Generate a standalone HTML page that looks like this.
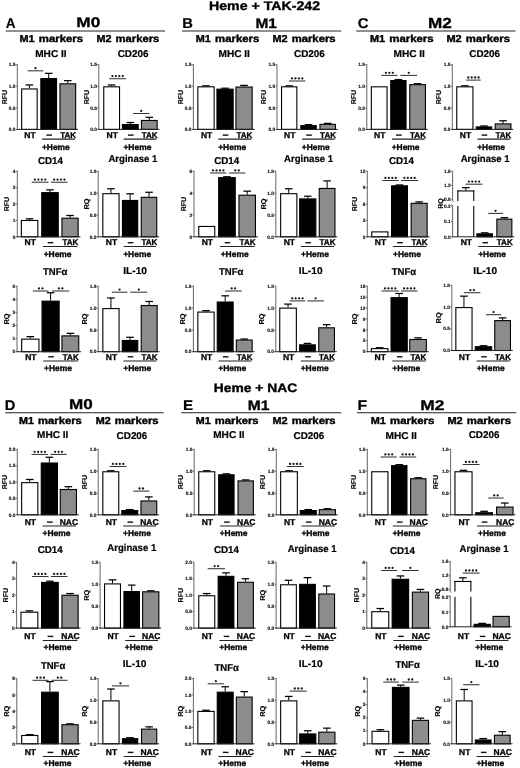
<!DOCTYPE html>
<html><head><meta charset="utf-8"><style>
html,body{margin:0;padding:0;background:#fff;overflow:hidden;}
svg{display:block;filter:blur(0.3px);}
text{font-family:"Liberation Sans", sans-serif;text-rendering:geometricPrecision;}
</style></head><body>
<svg width="520" height="768" viewBox="0 0 520 768">
<rect width="520" height="768" fill="#fff"/>
<line x1="17.30" y1="64.20" x2="17.30" y2="129.90" stroke="#555" stroke-width="0.90"/>
<line x1="15.70" y1="129.40" x2="17.30" y2="129.40" stroke="#555" stroke-width="0.80"/>
<text x="15.40" y="131.10" font-size="4.80" text-anchor="end" fill="#111" font-weight="bold" stroke="#111" stroke-width="0.15">0.0</text>
<line x1="15.70" y1="107.83" x2="17.30" y2="107.83" stroke="#555" stroke-width="0.80"/>
<text x="15.40" y="109.53" font-size="4.80" text-anchor="end" fill="#111" font-weight="bold" stroke="#111" stroke-width="0.15">0.5</text>
<line x1="15.70" y1="86.27" x2="17.30" y2="86.27" stroke="#555" stroke-width="0.80"/>
<text x="15.40" y="87.97" font-size="4.80" text-anchor="end" fill="#111" font-weight="bold" stroke="#111" stroke-width="0.15">1.0</text>
<line x1="15.70" y1="64.70" x2="17.30" y2="64.70" stroke="#555" stroke-width="0.80"/>
<text x="15.40" y="66.40" font-size="4.80" text-anchor="end" fill="#111" font-weight="bold" stroke="#111" stroke-width="0.15">1.5</text>
<text x="6.80" y="97.05" font-size="7.00" text-anchor="middle" fill="#000" font-weight="bold" textLength="14.50" lengthAdjust="spacingAndGlyphs" transform="rotate(-90 6.80 97.05)" stroke="#000" stroke-width="0.15">RFU</text>
<line x1="29.40" y1="88.42" x2="29.40" y2="84.97" stroke="#000" stroke-width="1.00"/>
<line x1="25.60" y1="84.97" x2="33.20" y2="84.97" stroke="#000" stroke-width="1.25"/>
<rect x="21.65" y="88.97" width="15.50" height="40.43" fill="#fff" stroke="#000" stroke-width="1.10"/>
<line x1="48.70" y1="78.07" x2="48.70" y2="73.33" stroke="#000" stroke-width="1.00"/>
<line x1="44.90" y1="73.33" x2="52.50" y2="73.33" stroke="#000" stroke-width="1.25"/>
<rect x="40.85" y="78.62" width="15.70" height="50.78" fill="#000" stroke="#000" stroke-width="1.10"/>
<line x1="67.80" y1="83.25" x2="67.80" y2="80.66" stroke="#000" stroke-width="1.00"/>
<line x1="64.00" y1="80.66" x2="71.60" y2="80.66" stroke="#000" stroke-width="1.25"/>
<rect x="59.95" y="83.80" width="15.70" height="45.60" fill="#8c8c8c" stroke="#000" stroke-width="1.10"/>
<line x1="16.80" y1="129.40" x2="78.00" y2="129.40" stroke="#222" stroke-width="1.00"/>
<line x1="27.70" y1="70.80" x2="43.30" y2="70.80" stroke="#333" stroke-width="1.05"/>
<circle cx="35.50" cy="68.20" r="1.15" fill="#1a1a1a"/>
<text x="30.00" y="137.80" font-size="8.50" text-anchor="middle" fill="#000" font-weight="bold" textLength="11.36" lengthAdjust="spacingAndGlyphs" stroke="#000" stroke-width="0.30">NT</text>
<rect x="46.40" y="134.40" width="5.60" height="1.40" fill="#111"/>
<text x="68.20" y="137.80" font-size="8.50" text-anchor="middle" fill="#000" font-weight="bold" textLength="15.96" lengthAdjust="spacingAndGlyphs" stroke="#000" stroke-width="0.30">TAK</text>
<line x1="42.10" y1="139.10" x2="74.90" y2="139.10" stroke="#222" stroke-width="1.05"/>
<text x="55.85" y="149.60" font-size="8.50" text-anchor="middle" fill="#000" font-weight="bold" textLength="27.94" lengthAdjust="spacingAndGlyphs" stroke="#000" stroke-width="0.30">+Heme</text>
<text x="50.90" y="56.90" font-size="9.90" text-anchor="middle" fill="#000" font-weight="bold" textLength="31.35" lengthAdjust="spacingAndGlyphs" stroke="#000" stroke-width="0.20">MHC II</text>
<line x1="98.80" y1="64.20" x2="98.80" y2="129.90" stroke="#555" stroke-width="0.90"/>
<line x1="97.20" y1="129.40" x2="98.80" y2="129.40" stroke="#555" stroke-width="0.80"/>
<text x="96.90" y="131.10" font-size="4.80" text-anchor="end" fill="#111" font-weight="bold" stroke="#111" stroke-width="0.15">0.0</text>
<line x1="97.20" y1="107.83" x2="98.80" y2="107.83" stroke="#555" stroke-width="0.80"/>
<text x="96.90" y="109.53" font-size="4.80" text-anchor="end" fill="#111" font-weight="bold" stroke="#111" stroke-width="0.15">0.5</text>
<line x1="97.20" y1="86.27" x2="98.80" y2="86.27" stroke="#555" stroke-width="0.80"/>
<text x="96.90" y="87.97" font-size="4.80" text-anchor="end" fill="#111" font-weight="bold" stroke="#111" stroke-width="0.15">1.0</text>
<line x1="97.20" y1="64.70" x2="98.80" y2="64.70" stroke="#555" stroke-width="0.80"/>
<text x="96.90" y="66.40" font-size="4.80" text-anchor="end" fill="#111" font-weight="bold" stroke="#111" stroke-width="0.15">1.5</text>
<text x="88.80" y="97.05" font-size="7.00" text-anchor="middle" fill="#000" font-weight="bold" textLength="14.50" lengthAdjust="spacingAndGlyphs" transform="rotate(-90 88.80 97.05)" stroke="#000" stroke-width="0.15">RFU</text>
<line x1="111.65" y1="86.27" x2="111.65" y2="84.97" stroke="#000" stroke-width="1.00"/>
<line x1="107.85" y1="84.97" x2="115.45" y2="84.97" stroke="#000" stroke-width="1.25"/>
<rect x="103.75" y="86.82" width="15.80" height="42.58" fill="#fff" stroke="#000" stroke-width="1.10"/>
<line x1="130.30" y1="124.01" x2="130.30" y2="122.50" stroke="#000" stroke-width="1.00"/>
<line x1="126.50" y1="122.50" x2="134.10" y2="122.50" stroke="#000" stroke-width="1.25"/>
<rect x="122.45" y="124.56" width="15.70" height="4.84" fill="#000" stroke="#000" stroke-width="1.10"/>
<line x1="149.30" y1="119.91" x2="149.30" y2="117.32" stroke="#000" stroke-width="1.00"/>
<line x1="145.50" y1="117.32" x2="153.10" y2="117.32" stroke="#000" stroke-width="1.25"/>
<rect x="141.45" y="120.46" width="15.70" height="8.94" fill="#8c8c8c" stroke="#000" stroke-width="1.10"/>
<line x1="98.30" y1="129.40" x2="159.50" y2="129.40" stroke="#222" stroke-width="1.00"/>
<line x1="109.20" y1="78.70" x2="126.00" y2="78.70" stroke="#333" stroke-width="1.05"/>
<circle cx="112.42" cy="76.10" r="1.15" fill="#1a1a1a"/>
<circle cx="115.88" cy="76.10" r="1.15" fill="#1a1a1a"/>
<circle cx="119.32" cy="76.10" r="1.15" fill="#1a1a1a"/>
<circle cx="122.77" cy="76.10" r="1.15" fill="#1a1a1a"/>
<line x1="133.10" y1="113.50" x2="149.40" y2="113.50" stroke="#333" stroke-width="1.05"/>
<circle cx="141.25" cy="110.90" r="1.15" fill="#1a1a1a"/>
<text x="112.25" y="137.80" font-size="8.50" text-anchor="middle" fill="#000" font-weight="bold" textLength="11.36" lengthAdjust="spacingAndGlyphs" stroke="#000" stroke-width="0.30">NT</text>
<rect x="128.00" y="134.40" width="5.60" height="1.40" fill="#111"/>
<text x="149.70" y="137.80" font-size="8.50" text-anchor="middle" fill="#000" font-weight="bold" textLength="15.96" lengthAdjust="spacingAndGlyphs" stroke="#000" stroke-width="0.30">TAK</text>
<line x1="123.70" y1="139.10" x2="156.40" y2="139.10" stroke="#222" stroke-width="1.05"/>
<text x="137.40" y="149.60" font-size="8.50" text-anchor="middle" fill="#000" font-weight="bold" textLength="27.94" lengthAdjust="spacingAndGlyphs" stroke="#000" stroke-width="0.30">+Heme</text>
<text x="133.10" y="56.90" font-size="9.90" text-anchor="middle" fill="#000" font-weight="bold" textLength="30.76" lengthAdjust="spacingAndGlyphs" stroke="#000" stroke-width="0.20">CD206</text>
<line x1="17.30" y1="170.80" x2="17.30" y2="237.30" stroke="#555" stroke-width="0.90"/>
<line x1="15.70" y1="236.80" x2="17.30" y2="236.80" stroke="#555" stroke-width="0.80"/>
<text x="15.40" y="238.50" font-size="4.80" text-anchor="end" fill="#111" font-weight="bold" stroke="#111" stroke-width="0.15">0</text>
<line x1="15.70" y1="220.43" x2="17.30" y2="220.43" stroke="#555" stroke-width="0.80"/>
<text x="15.40" y="222.12" font-size="4.80" text-anchor="end" fill="#111" font-weight="bold" stroke="#111" stroke-width="0.15">1</text>
<line x1="15.70" y1="204.05" x2="17.30" y2="204.05" stroke="#555" stroke-width="0.80"/>
<text x="15.40" y="205.75" font-size="4.80" text-anchor="end" fill="#111" font-weight="bold" stroke="#111" stroke-width="0.15">2</text>
<line x1="15.70" y1="187.68" x2="17.30" y2="187.68" stroke="#555" stroke-width="0.80"/>
<text x="15.40" y="189.38" font-size="4.80" text-anchor="end" fill="#111" font-weight="bold" stroke="#111" stroke-width="0.15">3</text>
<line x1="15.70" y1="171.30" x2="17.30" y2="171.30" stroke="#555" stroke-width="0.80"/>
<text x="15.40" y="173.00" font-size="4.80" text-anchor="end" fill="#111" font-weight="bold" stroke="#111" stroke-width="0.15">4</text>
<text x="8.80" y="204.05" font-size="7.00" text-anchor="middle" fill="#000" font-weight="bold" textLength="14.50" lengthAdjust="spacingAndGlyphs" transform="rotate(-90 8.80 204.05)" stroke="#000" stroke-width="0.15">RFU</text>
<line x1="29.60" y1="219.93" x2="29.60" y2="218.79" stroke="#000" stroke-width="1.00"/>
<line x1="25.80" y1="218.79" x2="33.40" y2="218.79" stroke="#000" stroke-width="1.25"/>
<rect x="21.35" y="220.48" width="16.50" height="16.32" fill="#fff" stroke="#000" stroke-width="1.10"/>
<line x1="50.00" y1="192.10" x2="50.00" y2="189.80" stroke="#000" stroke-width="1.00"/>
<line x1="46.20" y1="189.80" x2="53.80" y2="189.80" stroke="#000" stroke-width="1.25"/>
<rect x="41.75" y="192.65" width="16.50" height="44.15" fill="#000" stroke="#000" stroke-width="1.10"/>
<line x1="70.05" y1="217.64" x2="70.05" y2="215.51" stroke="#000" stroke-width="1.00"/>
<line x1="66.25" y1="215.51" x2="73.85" y2="215.51" stroke="#000" stroke-width="1.25"/>
<rect x="61.95" y="218.19" width="16.20" height="18.61" fill="#8c8c8c" stroke="#000" stroke-width="1.10"/>
<line x1="16.80" y1="236.80" x2="80.50" y2="236.80" stroke="#222" stroke-width="1.00"/>
<line x1="31.70" y1="182.20" x2="48.50" y2="182.20" stroke="#333" stroke-width="1.05"/>
<circle cx="34.92" cy="179.60" r="1.15" fill="#1a1a1a"/>
<circle cx="38.38" cy="179.60" r="1.15" fill="#1a1a1a"/>
<circle cx="41.83" cy="179.60" r="1.15" fill="#1a1a1a"/>
<circle cx="45.28" cy="179.60" r="1.15" fill="#1a1a1a"/>
<line x1="51.00" y1="182.20" x2="67.50" y2="182.20" stroke="#333" stroke-width="1.05"/>
<circle cx="54.08" cy="179.60" r="1.15" fill="#1a1a1a"/>
<circle cx="57.52" cy="179.60" r="1.15" fill="#1a1a1a"/>
<circle cx="60.98" cy="179.60" r="1.15" fill="#1a1a1a"/>
<circle cx="64.42" cy="179.60" r="1.15" fill="#1a1a1a"/>
<text x="30.20" y="245.40" font-size="8.50" text-anchor="middle" fill="#000" font-weight="bold" textLength="11.36" lengthAdjust="spacingAndGlyphs" stroke="#000" stroke-width="0.30">NT</text>
<rect x="47.70" y="242.00" width="5.60" height="1.40" fill="#111"/>
<text x="70.45" y="245.40" font-size="8.50" text-anchor="middle" fill="#000" font-weight="bold" textLength="15.96" lengthAdjust="spacingAndGlyphs" stroke="#000" stroke-width="0.30">TAK</text>
<line x1="43.00" y1="246.40" x2="77.40" y2="246.40" stroke="#222" stroke-width="1.05"/>
<text x="57.62" y="256.70" font-size="8.50" text-anchor="middle" fill="#000" font-weight="bold" textLength="27.94" lengthAdjust="spacingAndGlyphs" stroke="#000" stroke-width="0.30">+Heme</text>
<text x="50.50" y="163.60" font-size="9.90" text-anchor="middle" fill="#000" font-weight="bold" textLength="24.95" lengthAdjust="spacingAndGlyphs" stroke="#000" stroke-width="0.20">CD14</text>
<line x1="98.20" y1="170.80" x2="98.20" y2="237.30" stroke="#555" stroke-width="0.90"/>
<line x1="96.60" y1="236.80" x2="98.20" y2="236.80" stroke="#555" stroke-width="0.80"/>
<text x="96.30" y="238.50" font-size="4.80" text-anchor="end" fill="#111" font-weight="bold" stroke="#111" stroke-width="0.15">0.0</text>
<line x1="96.60" y1="214.97" x2="98.20" y2="214.97" stroke="#555" stroke-width="0.80"/>
<text x="96.30" y="216.67" font-size="4.80" text-anchor="end" fill="#111" font-weight="bold" stroke="#111" stroke-width="0.15">0.5</text>
<line x1="96.60" y1="193.13" x2="98.20" y2="193.13" stroke="#555" stroke-width="0.80"/>
<text x="96.30" y="194.83" font-size="4.80" text-anchor="end" fill="#111" font-weight="bold" stroke="#111" stroke-width="0.15">1.0</text>
<line x1="96.60" y1="171.30" x2="98.20" y2="171.30" stroke="#555" stroke-width="0.80"/>
<text x="96.30" y="173.00" font-size="4.80" text-anchor="end" fill="#111" font-weight="bold" stroke="#111" stroke-width="0.15">1.5</text>
<text x="88.80" y="204.05" font-size="7.00" text-anchor="middle" fill="#000" font-weight="bold" textLength="11.00" lengthAdjust="spacingAndGlyphs" transform="rotate(-90 88.80 204.05)" stroke="#000" stroke-width="0.15">RQ</text>
<line x1="110.95" y1="193.13" x2="110.95" y2="188.77" stroke="#000" stroke-width="1.00"/>
<line x1="107.15" y1="188.77" x2="114.75" y2="188.77" stroke="#000" stroke-width="1.25"/>
<rect x="102.85" y="193.68" width="16.20" height="43.12" fill="#fff" stroke="#000" stroke-width="1.10"/>
<line x1="130.10" y1="199.90" x2="130.10" y2="193.79" stroke="#000" stroke-width="1.00"/>
<line x1="126.30" y1="193.79" x2="133.90" y2="193.79" stroke="#000" stroke-width="1.25"/>
<rect x="122.45" y="200.45" width="15.30" height="36.35" fill="#000" stroke="#000" stroke-width="1.10"/>
<line x1="149.00" y1="196.76" x2="149.00" y2="192.26" stroke="#000" stroke-width="1.00"/>
<line x1="145.20" y1="192.26" x2="152.80" y2="192.26" stroke="#000" stroke-width="1.25"/>
<rect x="141.25" y="197.31" width="15.50" height="39.49" fill="#8c8c8c" stroke="#000" stroke-width="1.10"/>
<line x1="97.70" y1="236.80" x2="159.10" y2="236.80" stroke="#222" stroke-width="1.00"/>
<text x="111.55" y="245.40" font-size="8.50" text-anchor="middle" fill="#000" font-weight="bold" textLength="11.36" lengthAdjust="spacingAndGlyphs" stroke="#000" stroke-width="0.30">NT</text>
<rect x="127.80" y="242.00" width="5.60" height="1.40" fill="#111"/>
<text x="149.40" y="245.40" font-size="8.50" text-anchor="middle" fill="#000" font-weight="bold" textLength="15.96" lengthAdjust="spacingAndGlyphs" stroke="#000" stroke-width="0.30">TAK</text>
<line x1="123.70" y1="246.40" x2="156.00" y2="246.40" stroke="#222" stroke-width="1.05"/>
<text x="137.15" y="256.70" font-size="8.50" text-anchor="middle" fill="#000" font-weight="bold" textLength="27.94" lengthAdjust="spacingAndGlyphs" stroke="#000" stroke-width="0.30">+Heme</text>
<text x="132.90" y="161.80" font-size="9.90" text-anchor="middle" fill="#000" font-weight="bold" textLength="49.01" lengthAdjust="spacingAndGlyphs" stroke="#000" stroke-width="0.20">Arginase 1</text>
<line x1="17.00" y1="285.70" x2="17.00" y2="352.20" stroke="#555" stroke-width="0.90"/>
<line x1="15.40" y1="351.70" x2="17.00" y2="351.70" stroke="#555" stroke-width="0.80"/>
<text x="15.10" y="353.40" font-size="4.80" text-anchor="end" fill="#111" font-weight="bold" stroke="#111" stroke-width="0.15">0</text>
<line x1="15.40" y1="338.60" x2="17.00" y2="338.60" stroke="#555" stroke-width="0.80"/>
<text x="15.10" y="340.30" font-size="4.80" text-anchor="end" fill="#111" font-weight="bold" stroke="#111" stroke-width="0.15">1</text>
<line x1="15.40" y1="325.50" x2="17.00" y2="325.50" stroke="#555" stroke-width="0.80"/>
<text x="15.10" y="327.20" font-size="4.80" text-anchor="end" fill="#111" font-weight="bold" stroke="#111" stroke-width="0.15">2</text>
<line x1="15.40" y1="312.40" x2="17.00" y2="312.40" stroke="#555" stroke-width="0.80"/>
<text x="15.10" y="314.10" font-size="4.80" text-anchor="end" fill="#111" font-weight="bold" stroke="#111" stroke-width="0.15">3</text>
<line x1="15.40" y1="299.30" x2="17.00" y2="299.30" stroke="#555" stroke-width="0.80"/>
<text x="15.10" y="301.00" font-size="4.80" text-anchor="end" fill="#111" font-weight="bold" stroke="#111" stroke-width="0.15">4</text>
<line x1="15.40" y1="286.20" x2="17.00" y2="286.20" stroke="#555" stroke-width="0.80"/>
<text x="15.10" y="287.90" font-size="4.80" text-anchor="end" fill="#111" font-weight="bold" stroke="#111" stroke-width="0.15">5</text>
<text x="9.10" y="318.95" font-size="7.00" text-anchor="middle" fill="#000" font-weight="bold" textLength="11.00" lengthAdjust="spacingAndGlyphs" transform="rotate(-90 9.10 318.95)" stroke="#000" stroke-width="0.15">RQ</text>
<line x1="30.30" y1="338.60" x2="30.30" y2="336.63" stroke="#000" stroke-width="1.00"/>
<line x1="26.50" y1="336.63" x2="34.10" y2="336.63" stroke="#000" stroke-width="1.25"/>
<rect x="21.65" y="339.15" width="17.30" height="12.55" fill="#fff" stroke="#000" stroke-width="1.10"/>
<line x1="50.60" y1="300.61" x2="50.60" y2="292.75" stroke="#000" stroke-width="1.00"/>
<line x1="46.80" y1="292.75" x2="54.40" y2="292.75" stroke="#000" stroke-width="1.25"/>
<rect x="42.05" y="301.16" width="17.10" height="50.54" fill="#000" stroke="#000" stroke-width="1.10"/>
<line x1="70.35" y1="335.32" x2="70.35" y2="333.36" stroke="#000" stroke-width="1.00"/>
<line x1="66.55" y1="333.36" x2="74.15" y2="333.36" stroke="#000" stroke-width="1.25"/>
<rect x="61.95" y="335.88" width="16.80" height="15.82" fill="#8c8c8c" stroke="#000" stroke-width="1.10"/>
<line x1="16.50" y1="351.70" x2="81.10" y2="351.70" stroke="#222" stroke-width="1.00"/>
<line x1="32.90" y1="291.00" x2="48.50" y2="291.00" stroke="#333" stroke-width="1.05"/>
<circle cx="38.98" cy="288.40" r="1.15" fill="#1a1a1a"/>
<circle cx="42.43" cy="288.40" r="1.15" fill="#1a1a1a"/>
<line x1="52.00" y1="291.00" x2="69.20" y2="291.00" stroke="#333" stroke-width="1.05"/>
<circle cx="58.88" cy="288.40" r="1.15" fill="#1a1a1a"/>
<circle cx="62.33" cy="288.40" r="1.15" fill="#1a1a1a"/>
<text x="30.90" y="359.50" font-size="8.50" text-anchor="middle" fill="#000" font-weight="bold" textLength="11.36" lengthAdjust="spacingAndGlyphs" stroke="#000" stroke-width="0.30">NT</text>
<rect x="48.30" y="356.10" width="5.60" height="1.40" fill="#111"/>
<text x="70.75" y="359.50" font-size="8.50" text-anchor="middle" fill="#000" font-weight="bold" textLength="15.96" lengthAdjust="spacingAndGlyphs" stroke="#000" stroke-width="0.30">TAK</text>
<line x1="43.30" y1="360.90" x2="78.00" y2="360.90" stroke="#222" stroke-width="1.05"/>
<text x="58.07" y="370.70" font-size="8.50" text-anchor="middle" fill="#000" font-weight="bold" textLength="27.94" lengthAdjust="spacingAndGlyphs" stroke="#000" stroke-width="0.30">+Heme</text>
<text x="55.20" y="275.00" font-size="9.90" text-anchor="middle" fill="#000" font-weight="bold" textLength="24.40" lengthAdjust="spacingAndGlyphs" stroke="#000" stroke-width="0.20">TNFα</text>
<line x1="98.20" y1="285.70" x2="98.20" y2="352.20" stroke="#555" stroke-width="0.90"/>
<line x1="96.60" y1="351.70" x2="98.20" y2="351.70" stroke="#555" stroke-width="0.80"/>
<text x="96.30" y="353.40" font-size="4.80" text-anchor="end" fill="#111" font-weight="bold" stroke="#111" stroke-width="0.15">0.0</text>
<line x1="96.60" y1="329.87" x2="98.20" y2="329.87" stroke="#555" stroke-width="0.80"/>
<text x="96.30" y="331.57" font-size="4.80" text-anchor="end" fill="#111" font-weight="bold" stroke="#111" stroke-width="0.15">0.5</text>
<line x1="96.60" y1="308.03" x2="98.20" y2="308.03" stroke="#555" stroke-width="0.80"/>
<text x="96.30" y="309.73" font-size="4.80" text-anchor="end" fill="#111" font-weight="bold" stroke="#111" stroke-width="0.15">1.0</text>
<line x1="96.60" y1="286.20" x2="98.20" y2="286.20" stroke="#555" stroke-width="0.80"/>
<text x="96.30" y="287.90" font-size="4.80" text-anchor="end" fill="#111" font-weight="bold" stroke="#111" stroke-width="0.15">1.5</text>
<text x="87.00" y="318.95" font-size="7.00" text-anchor="middle" fill="#000" font-weight="bold" textLength="11.00" lengthAdjust="spacingAndGlyphs" transform="rotate(-90 87.00 318.95)" stroke="#000" stroke-width="0.15">RQ</text>
<line x1="110.95" y1="308.03" x2="110.95" y2="297.99" stroke="#000" stroke-width="1.00"/>
<line x1="107.15" y1="297.99" x2="114.75" y2="297.99" stroke="#000" stroke-width="1.25"/>
<rect x="102.85" y="308.58" width="16.20" height="43.12" fill="#fff" stroke="#000" stroke-width="1.10"/>
<line x1="130.00" y1="339.91" x2="130.00" y2="337.29" stroke="#000" stroke-width="1.00"/>
<line x1="126.20" y1="337.29" x2="133.80" y2="337.29" stroke="#000" stroke-width="1.25"/>
<rect x="122.25" y="340.46" width="15.50" height="11.24" fill="#000" stroke="#000" stroke-width="1.10"/>
<line x1="149.20" y1="304.98" x2="149.20" y2="301.48" stroke="#000" stroke-width="1.00"/>
<line x1="145.40" y1="301.48" x2="153.00" y2="301.48" stroke="#000" stroke-width="1.25"/>
<rect x="141.25" y="305.53" width="15.90" height="46.17" fill="#8c8c8c" stroke="#000" stroke-width="1.10"/>
<line x1="97.70" y1="351.70" x2="159.50" y2="351.70" stroke="#222" stroke-width="1.00"/>
<line x1="111.80" y1="292.20" x2="127.40" y2="292.20" stroke="#333" stroke-width="1.05"/>
<circle cx="119.60" cy="289.60" r="1.15" fill="#1a1a1a"/>
<line x1="130.30" y1="292.20" x2="147.30" y2="292.20" stroke="#333" stroke-width="1.05"/>
<circle cx="138.80" cy="289.60" r="1.15" fill="#1a1a1a"/>
<text x="111.55" y="359.50" font-size="8.50" text-anchor="middle" fill="#000" font-weight="bold" textLength="11.36" lengthAdjust="spacingAndGlyphs" stroke="#000" stroke-width="0.30">NT</text>
<rect x="127.70" y="356.10" width="5.60" height="1.40" fill="#111"/>
<text x="149.60" y="359.50" font-size="8.50" text-anchor="middle" fill="#000" font-weight="bold" textLength="15.96" lengthAdjust="spacingAndGlyphs" stroke="#000" stroke-width="0.30">TAK</text>
<line x1="123.50" y1="360.90" x2="156.40" y2="360.90" stroke="#222" stroke-width="1.05"/>
<text x="137.20" y="370.70" font-size="8.50" text-anchor="middle" fill="#000" font-weight="bold" textLength="27.94" lengthAdjust="spacingAndGlyphs" stroke="#000" stroke-width="0.30">+Heme</text>
<text x="135.10" y="273.60" font-size="9.90" text-anchor="middle" fill="#000" font-weight="bold" textLength="23.70" lengthAdjust="spacingAndGlyphs" stroke="#000" stroke-width="0.20">IL-10</text>
<line x1="193.40" y1="64.20" x2="193.40" y2="129.90" stroke="#555" stroke-width="0.90"/>
<line x1="191.80" y1="129.40" x2="193.40" y2="129.40" stroke="#555" stroke-width="0.80"/>
<text x="191.50" y="131.10" font-size="4.80" text-anchor="end" fill="#111" font-weight="bold" stroke="#111" stroke-width="0.15">0.0</text>
<line x1="191.80" y1="107.83" x2="193.40" y2="107.83" stroke="#555" stroke-width="0.80"/>
<text x="191.50" y="109.53" font-size="4.80" text-anchor="end" fill="#111" font-weight="bold" stroke="#111" stroke-width="0.15">0.5</text>
<line x1="191.80" y1="86.27" x2="193.40" y2="86.27" stroke="#555" stroke-width="0.80"/>
<text x="191.50" y="87.97" font-size="4.80" text-anchor="end" fill="#111" font-weight="bold" stroke="#111" stroke-width="0.15">1.0</text>
<line x1="191.80" y1="64.70" x2="193.40" y2="64.70" stroke="#555" stroke-width="0.80"/>
<text x="191.50" y="66.40" font-size="4.80" text-anchor="end" fill="#111" font-weight="bold" stroke="#111" stroke-width="0.15">1.5</text>
<text x="183.20" y="97.05" font-size="7.00" text-anchor="middle" fill="#000" font-weight="bold" textLength="14.50" lengthAdjust="spacingAndGlyphs" transform="rotate(-90 183.20 97.05)" stroke="#000" stroke-width="0.15">RFU</text>
<line x1="206.00" y1="86.27" x2="206.00" y2="85.84" stroke="#000" stroke-width="1.00"/>
<line x1="202.20" y1="85.84" x2="209.80" y2="85.84" stroke="#000" stroke-width="1.25"/>
<rect x="197.85" y="86.82" width="16.30" height="42.58" fill="#fff" stroke="#000" stroke-width="1.10"/>
<line x1="225.05" y1="88.64" x2="225.05" y2="88.21" stroke="#000" stroke-width="1.00"/>
<line x1="221.25" y1="88.21" x2="228.85" y2="88.21" stroke="#000" stroke-width="1.25"/>
<rect x="216.95" y="89.19" width="16.20" height="40.21" fill="#000" stroke="#000" stroke-width="1.10"/>
<line x1="244.05" y1="86.48" x2="244.05" y2="85.40" stroke="#000" stroke-width="1.00"/>
<line x1="240.25" y1="85.40" x2="247.85" y2="85.40" stroke="#000" stroke-width="1.25"/>
<rect x="235.95" y="87.03" width="16.20" height="42.37" fill="#8c8c8c" stroke="#000" stroke-width="1.10"/>
<line x1="192.90" y1="129.40" x2="254.50" y2="129.40" stroke="#222" stroke-width="1.00"/>
<text x="206.60" y="137.80" font-size="8.50" text-anchor="middle" fill="#000" font-weight="bold" textLength="11.36" lengthAdjust="spacingAndGlyphs" stroke="#000" stroke-width="0.30">NT</text>
<rect x="222.75" y="134.40" width="5.60" height="1.40" fill="#111"/>
<text x="244.45" y="137.80" font-size="8.50" text-anchor="middle" fill="#000" font-weight="bold" textLength="15.96" lengthAdjust="spacingAndGlyphs" stroke="#000" stroke-width="0.30">TAK</text>
<line x1="218.20" y1="139.10" x2="251.40" y2="139.10" stroke="#222" stroke-width="1.05"/>
<text x="232.15" y="149.60" font-size="8.50" text-anchor="middle" fill="#000" font-weight="bold" textLength="27.94" lengthAdjust="spacingAndGlyphs" stroke="#000" stroke-width="0.30">+Heme</text>
<text x="234.20" y="56.90" font-size="9.90" text-anchor="middle" fill="#000" font-weight="bold" textLength="31.35" lengthAdjust="spacingAndGlyphs" stroke="#000" stroke-width="0.20">MHC II</text>
<line x1="277.00" y1="64.20" x2="277.00" y2="129.90" stroke="#555" stroke-width="0.90"/>
<line x1="275.40" y1="129.40" x2="277.00" y2="129.40" stroke="#555" stroke-width="0.80"/>
<text x="275.10" y="131.10" font-size="4.80" text-anchor="end" fill="#111" font-weight="bold" stroke="#111" stroke-width="0.15">0.0</text>
<line x1="275.40" y1="107.83" x2="277.00" y2="107.83" stroke="#555" stroke-width="0.80"/>
<text x="275.10" y="109.53" font-size="4.80" text-anchor="end" fill="#111" font-weight="bold" stroke="#111" stroke-width="0.15">0.5</text>
<line x1="275.40" y1="86.27" x2="277.00" y2="86.27" stroke="#555" stroke-width="0.80"/>
<text x="275.10" y="87.97" font-size="4.80" text-anchor="end" fill="#111" font-weight="bold" stroke="#111" stroke-width="0.15">1.0</text>
<line x1="275.40" y1="64.70" x2="277.00" y2="64.70" stroke="#555" stroke-width="0.80"/>
<text x="275.10" y="66.40" font-size="4.80" text-anchor="end" fill="#111" font-weight="bold" stroke="#111" stroke-width="0.15">1.5</text>
<text x="266.20" y="97.05" font-size="7.00" text-anchor="middle" fill="#000" font-weight="bold" textLength="14.50" lengthAdjust="spacingAndGlyphs" transform="rotate(-90 266.20 97.05)" stroke="#000" stroke-width="0.15">RFU</text>
<line x1="289.20" y1="86.27" x2="289.20" y2="85.84" stroke="#000" stroke-width="1.00"/>
<line x1="285.40" y1="85.84" x2="293.00" y2="85.84" stroke="#000" stroke-width="1.25"/>
<rect x="281.55" y="86.82" width="15.30" height="42.58" fill="#fff" stroke="#000" stroke-width="1.10"/>
<line x1="308.55" y1="125.09" x2="308.55" y2="124.66" stroke="#000" stroke-width="1.00"/>
<line x1="304.75" y1="124.66" x2="312.35" y2="124.66" stroke="#000" stroke-width="1.25"/>
<rect x="300.85" y="125.64" width="15.40" height="3.76" fill="#000" stroke="#000" stroke-width="1.10"/>
<line x1="327.70" y1="123.79" x2="327.70" y2="123.36" stroke="#000" stroke-width="1.00"/>
<line x1="323.90" y1="123.36" x2="331.50" y2="123.36" stroke="#000" stroke-width="1.25"/>
<rect x="319.95" y="124.34" width="15.50" height="5.06" fill="#8c8c8c" stroke="#000" stroke-width="1.10"/>
<line x1="276.50" y1="129.40" x2="337.80" y2="129.40" stroke="#222" stroke-width="1.00"/>
<line x1="288.90" y1="81.00" x2="305.40" y2="81.00" stroke="#333" stroke-width="1.05"/>
<circle cx="291.97" cy="78.40" r="1.15" fill="#1a1a1a"/>
<circle cx="295.42" cy="78.40" r="1.15" fill="#1a1a1a"/>
<circle cx="298.88" cy="78.40" r="1.15" fill="#1a1a1a"/>
<circle cx="302.32" cy="78.40" r="1.15" fill="#1a1a1a"/>
<text x="289.80" y="137.80" font-size="8.50" text-anchor="middle" fill="#000" font-weight="bold" textLength="11.36" lengthAdjust="spacingAndGlyphs" stroke="#000" stroke-width="0.30">NT</text>
<rect x="306.25" y="134.40" width="5.60" height="1.40" fill="#111"/>
<text x="328.10" y="137.80" font-size="8.50" text-anchor="middle" fill="#000" font-weight="bold" textLength="15.96" lengthAdjust="spacingAndGlyphs" stroke="#000" stroke-width="0.30">TAK</text>
<line x1="302.10" y1="139.10" x2="334.70" y2="139.10" stroke="#222" stroke-width="1.05"/>
<text x="315.73" y="149.60" font-size="8.50" text-anchor="middle" fill="#000" font-weight="bold" textLength="27.94" lengthAdjust="spacingAndGlyphs" stroke="#000" stroke-width="0.30">+Heme</text>
<text x="309.40" y="56.90" font-size="9.90" text-anchor="middle" fill="#000" font-weight="bold" textLength="30.76" lengthAdjust="spacingAndGlyphs" stroke="#000" stroke-width="0.20">CD206</text>
<line x1="194.00" y1="170.80" x2="194.00" y2="237.30" stroke="#555" stroke-width="0.90"/>
<line x1="192.40" y1="236.80" x2="194.00" y2="236.80" stroke="#555" stroke-width="0.80"/>
<text x="192.10" y="238.50" font-size="4.80" text-anchor="end" fill="#111" font-weight="bold" stroke="#111" stroke-width="0.15">0</text>
<line x1="192.40" y1="214.97" x2="194.00" y2="214.97" stroke="#555" stroke-width="0.80"/>
<text x="192.10" y="216.67" font-size="4.80" text-anchor="end" fill="#111" font-weight="bold" stroke="#111" stroke-width="0.15">2</text>
<line x1="192.40" y1="193.13" x2="194.00" y2="193.13" stroke="#555" stroke-width="0.80"/>
<text x="192.10" y="194.83" font-size="4.80" text-anchor="end" fill="#111" font-weight="bold" stroke="#111" stroke-width="0.15">4</text>
<line x1="192.40" y1="171.30" x2="194.00" y2="171.30" stroke="#555" stroke-width="0.80"/>
<text x="192.10" y="173.00" font-size="4.80" text-anchor="end" fill="#111" font-weight="bold" stroke="#111" stroke-width="0.15">6</text>
<text x="185.70" y="204.05" font-size="7.00" text-anchor="middle" fill="#000" font-weight="bold" textLength="14.50" lengthAdjust="spacingAndGlyphs" transform="rotate(-90 185.70 204.05)" stroke="#000" stroke-width="0.15">RFU</text>
<rect x="198.75" y="226.43" width="16.00" height="10.37" fill="#fff" stroke="#000" stroke-width="1.10"/>
<line x1="226.95" y1="177.09" x2="226.95" y2="176.76" stroke="#000" stroke-width="1.00"/>
<line x1="223.15" y1="176.76" x2="230.75" y2="176.76" stroke="#000" stroke-width="1.25"/>
<rect x="218.65" y="177.64" width="16.60" height="59.16" fill="#000" stroke="#000" stroke-width="1.10"/>
<line x1="247.20" y1="194.66" x2="247.20" y2="191.17" stroke="#000" stroke-width="1.00"/>
<line x1="243.40" y1="191.17" x2="251.00" y2="191.17" stroke="#000" stroke-width="1.25"/>
<rect x="238.95" y="195.21" width="16.50" height="41.59" fill="#8c8c8c" stroke="#000" stroke-width="1.10"/>
<line x1="193.50" y1="236.80" x2="257.80" y2="236.80" stroke="#222" stroke-width="1.00"/>
<line x1="210.20" y1="173.00" x2="226.20" y2="173.00" stroke="#333" stroke-width="1.05"/>
<circle cx="213.02" cy="170.40" r="1.15" fill="#1a1a1a"/>
<circle cx="216.47" cy="170.40" r="1.15" fill="#1a1a1a"/>
<circle cx="219.92" cy="170.40" r="1.15" fill="#1a1a1a"/>
<circle cx="223.38" cy="170.40" r="1.15" fill="#1a1a1a"/>
<line x1="228.80" y1="173.00" x2="245.30" y2="173.00" stroke="#333" stroke-width="1.05"/>
<circle cx="235.33" cy="170.40" r="1.15" fill="#1a1a1a"/>
<circle cx="238.78" cy="170.40" r="1.15" fill="#1a1a1a"/>
<text x="207.35" y="245.40" font-size="8.50" text-anchor="middle" fill="#000" font-weight="bold" textLength="11.36" lengthAdjust="spacingAndGlyphs" stroke="#000" stroke-width="0.30">NT</text>
<rect x="224.65" y="242.00" width="5.60" height="1.40" fill="#111"/>
<text x="247.60" y="245.40" font-size="8.50" text-anchor="middle" fill="#000" font-weight="bold" textLength="15.96" lengthAdjust="spacingAndGlyphs" stroke="#000" stroke-width="0.30">TAK</text>
<line x1="219.90" y1="246.40" x2="254.70" y2="246.40" stroke="#222" stroke-width="1.05"/>
<text x="234.67" y="256.70" font-size="8.50" text-anchor="middle" fill="#000" font-weight="bold" textLength="27.94" lengthAdjust="spacingAndGlyphs" stroke="#000" stroke-width="0.30">+Heme</text>
<text x="226.70" y="164.00" font-size="9.90" text-anchor="middle" fill="#000" font-weight="bold" textLength="24.95" lengthAdjust="spacingAndGlyphs" stroke="#000" stroke-width="0.20">CD14</text>
<line x1="275.80" y1="170.80" x2="275.80" y2="237.30" stroke="#555" stroke-width="0.90"/>
<line x1="274.20" y1="236.80" x2="275.80" y2="236.80" stroke="#555" stroke-width="0.80"/>
<text x="273.90" y="238.50" font-size="4.80" text-anchor="end" fill="#111" font-weight="bold" stroke="#111" stroke-width="0.15">0.0</text>
<line x1="274.20" y1="214.97" x2="275.80" y2="214.97" stroke="#555" stroke-width="0.80"/>
<text x="273.90" y="216.67" font-size="4.80" text-anchor="end" fill="#111" font-weight="bold" stroke="#111" stroke-width="0.15">0.5</text>
<line x1="274.20" y1="193.13" x2="275.80" y2="193.13" stroke="#555" stroke-width="0.80"/>
<text x="273.90" y="194.83" font-size="4.80" text-anchor="end" fill="#111" font-weight="bold" stroke="#111" stroke-width="0.15">1.0</text>
<line x1="274.20" y1="171.30" x2="275.80" y2="171.30" stroke="#555" stroke-width="0.80"/>
<text x="273.90" y="173.00" font-size="4.80" text-anchor="end" fill="#111" font-weight="bold" stroke="#111" stroke-width="0.15">1.5</text>
<text x="266.20" y="204.05" font-size="7.00" text-anchor="middle" fill="#000" font-weight="bold" textLength="11.00" lengthAdjust="spacingAndGlyphs" transform="rotate(-90 266.20 204.05)" stroke="#000" stroke-width="0.15">RQ</text>
<line x1="288.75" y1="193.13" x2="288.75" y2="188.77" stroke="#000" stroke-width="1.00"/>
<line x1="284.95" y1="188.77" x2="292.55" y2="188.77" stroke="#000" stroke-width="1.25"/>
<rect x="280.65" y="193.68" width="16.20" height="43.12" fill="#fff" stroke="#000" stroke-width="1.10"/>
<line x1="307.75" y1="198.37" x2="307.75" y2="196.19" stroke="#000" stroke-width="1.00"/>
<line x1="303.95" y1="196.19" x2="311.55" y2="196.19" stroke="#000" stroke-width="1.25"/>
<rect x="299.65" y="198.92" width="16.20" height="37.88" fill="#000" stroke="#000" stroke-width="1.10"/>
<line x1="327.10" y1="187.89" x2="327.10" y2="180.91" stroke="#000" stroke-width="1.00"/>
<line x1="323.30" y1="180.91" x2="330.90" y2="180.91" stroke="#000" stroke-width="1.25"/>
<rect x="319.25" y="188.44" width="15.70" height="48.36" fill="#8c8c8c" stroke="#000" stroke-width="1.10"/>
<line x1="275.30" y1="236.80" x2="337.30" y2="236.80" stroke="#222" stroke-width="1.00"/>
<text x="289.35" y="245.40" font-size="8.50" text-anchor="middle" fill="#000" font-weight="bold" textLength="11.36" lengthAdjust="spacingAndGlyphs" stroke="#000" stroke-width="0.30">NT</text>
<rect x="305.45" y="242.00" width="5.60" height="1.40" fill="#111"/>
<text x="327.50" y="245.40" font-size="8.50" text-anchor="middle" fill="#000" font-weight="bold" textLength="15.96" lengthAdjust="spacingAndGlyphs" stroke="#000" stroke-width="0.30">TAK</text>
<line x1="300.90" y1="246.40" x2="334.20" y2="246.40" stroke="#222" stroke-width="1.05"/>
<text x="315.03" y="256.70" font-size="8.50" text-anchor="middle" fill="#000" font-weight="bold" textLength="27.94" lengthAdjust="spacingAndGlyphs" stroke="#000" stroke-width="0.30">+Heme</text>
<text x="308.60" y="161.60" font-size="9.90" text-anchor="middle" fill="#000" font-weight="bold" textLength="49.01" lengthAdjust="spacingAndGlyphs" stroke="#000" stroke-width="0.20">Arginase 1</text>
<line x1="193.40" y1="285.70" x2="193.40" y2="352.20" stroke="#555" stroke-width="0.90"/>
<line x1="191.80" y1="351.70" x2="193.40" y2="351.70" stroke="#555" stroke-width="0.80"/>
<text x="191.50" y="353.40" font-size="4.80" text-anchor="end" fill="#111" font-weight="bold" stroke="#111" stroke-width="0.15">0.0</text>
<line x1="191.80" y1="329.87" x2="193.40" y2="329.87" stroke="#555" stroke-width="0.80"/>
<text x="191.50" y="331.57" font-size="4.80" text-anchor="end" fill="#111" font-weight="bold" stroke="#111" stroke-width="0.15">0.5</text>
<line x1="191.80" y1="308.03" x2="193.40" y2="308.03" stroke="#555" stroke-width="0.80"/>
<text x="191.50" y="309.73" font-size="4.80" text-anchor="end" fill="#111" font-weight="bold" stroke="#111" stroke-width="0.15">1.0</text>
<line x1="191.80" y1="286.20" x2="193.40" y2="286.20" stroke="#555" stroke-width="0.80"/>
<text x="191.50" y="287.90" font-size="4.80" text-anchor="end" fill="#111" font-weight="bold" stroke="#111" stroke-width="0.15">1.5</text>
<text x="185.20" y="318.95" font-size="7.00" text-anchor="middle" fill="#000" font-weight="bold" textLength="11.00" lengthAdjust="spacingAndGlyphs" transform="rotate(-90 185.20 318.95)" stroke="#000" stroke-width="0.15">RQ</text>
<line x1="206.00" y1="311.53" x2="206.00" y2="310.65" stroke="#000" stroke-width="1.00"/>
<line x1="202.20" y1="310.65" x2="209.80" y2="310.65" stroke="#000" stroke-width="1.25"/>
<rect x="197.85" y="312.08" width="16.30" height="39.62" fill="#fff" stroke="#000" stroke-width="1.10"/>
<line x1="225.20" y1="301.48" x2="225.20" y2="295.81" stroke="#000" stroke-width="1.00"/>
<line x1="221.40" y1="295.81" x2="229.00" y2="295.81" stroke="#000" stroke-width="1.25"/>
<rect x="217.25" y="302.03" width="15.90" height="49.67" fill="#000" stroke="#000" stroke-width="1.10"/>
<line x1="244.25" y1="339.47" x2="244.25" y2="339.04" stroke="#000" stroke-width="1.00"/>
<line x1="240.45" y1="339.04" x2="248.05" y2="339.04" stroke="#000" stroke-width="1.25"/>
<rect x="236.35" y="340.02" width="15.80" height="11.68" fill="#8c8c8c" stroke="#000" stroke-width="1.10"/>
<line x1="192.90" y1="351.70" x2="254.50" y2="351.70" stroke="#222" stroke-width="1.00"/>
<line x1="225.00" y1="291.00" x2="241.80" y2="291.00" stroke="#333" stroke-width="1.05"/>
<circle cx="231.68" cy="288.40" r="1.15" fill="#1a1a1a"/>
<circle cx="235.12" cy="288.40" r="1.15" fill="#1a1a1a"/>
<text x="206.60" y="359.50" font-size="8.50" text-anchor="middle" fill="#000" font-weight="bold" textLength="11.36" lengthAdjust="spacingAndGlyphs" stroke="#000" stroke-width="0.30">NT</text>
<rect x="222.90" y="356.10" width="5.60" height="1.40" fill="#111"/>
<text x="244.65" y="359.50" font-size="8.50" text-anchor="middle" fill="#000" font-weight="bold" textLength="15.96" lengthAdjust="spacingAndGlyphs" stroke="#000" stroke-width="0.30">TAK</text>
<line x1="218.50" y1="360.90" x2="251.40" y2="360.90" stroke="#222" stroke-width="1.05"/>
<text x="232.32" y="370.70" font-size="8.50" text-anchor="middle" fill="#000" font-weight="bold" textLength="27.94" lengthAdjust="spacingAndGlyphs" stroke="#000" stroke-width="0.30">+Heme</text>
<text x="231.20" y="275.00" font-size="9.90" text-anchor="middle" fill="#000" font-weight="bold" textLength="24.40" lengthAdjust="spacingAndGlyphs" stroke="#000" stroke-width="0.20">TNFα</text>
<line x1="275.80" y1="285.70" x2="275.80" y2="352.20" stroke="#555" stroke-width="0.90"/>
<line x1="274.20" y1="351.70" x2="275.80" y2="351.70" stroke="#555" stroke-width="0.80"/>
<text x="273.90" y="353.40" font-size="4.80" text-anchor="end" fill="#111" font-weight="bold" stroke="#111" stroke-width="0.15">0.0</text>
<line x1="274.20" y1="329.87" x2="275.80" y2="329.87" stroke="#555" stroke-width="0.80"/>
<text x="273.90" y="331.57" font-size="4.80" text-anchor="end" fill="#111" font-weight="bold" stroke="#111" stroke-width="0.15">0.5</text>
<line x1="274.20" y1="308.03" x2="275.80" y2="308.03" stroke="#555" stroke-width="0.80"/>
<text x="273.90" y="309.73" font-size="4.80" text-anchor="end" fill="#111" font-weight="bold" stroke="#111" stroke-width="0.15">1.0</text>
<line x1="274.20" y1="286.20" x2="275.80" y2="286.20" stroke="#555" stroke-width="0.80"/>
<text x="273.90" y="287.90" font-size="4.80" text-anchor="end" fill="#111" font-weight="bold" stroke="#111" stroke-width="0.15">1.5</text>
<text x="264.50" y="318.95" font-size="7.00" text-anchor="middle" fill="#000" font-weight="bold" textLength="11.00" lengthAdjust="spacingAndGlyphs" transform="rotate(-90 264.50 318.95)" stroke="#000" stroke-width="0.15">RQ</text>
<line x1="288.05" y1="307.60" x2="288.05" y2="304.10" stroke="#000" stroke-width="1.00"/>
<line x1="284.25" y1="304.10" x2="291.85" y2="304.10" stroke="#000" stroke-width="1.25"/>
<rect x="279.75" y="308.15" width="16.60" height="43.55" fill="#fff" stroke="#000" stroke-width="1.10"/>
<line x1="307.50" y1="344.28" x2="307.50" y2="343.40" stroke="#000" stroke-width="1.00"/>
<line x1="303.70" y1="343.40" x2="311.30" y2="343.40" stroke="#000" stroke-width="1.25"/>
<rect x="299.65" y="344.83" width="15.70" height="6.87" fill="#000" stroke="#000" stroke-width="1.10"/>
<line x1="326.60" y1="327.25" x2="326.60" y2="324.63" stroke="#000" stroke-width="1.00"/>
<line x1="322.80" y1="324.63" x2="330.40" y2="324.63" stroke="#000" stroke-width="1.25"/>
<rect x="318.75" y="327.80" width="15.70" height="23.90" fill="#8c8c8c" stroke="#000" stroke-width="1.10"/>
<line x1="275.30" y1="351.70" x2="336.80" y2="351.70" stroke="#222" stroke-width="1.00"/>
<line x1="289.60" y1="300.90" x2="305.20" y2="300.90" stroke="#333" stroke-width="1.05"/>
<circle cx="292.22" cy="298.30" r="1.15" fill="#1a1a1a"/>
<circle cx="295.67" cy="298.30" r="1.15" fill="#1a1a1a"/>
<circle cx="299.12" cy="298.30" r="1.15" fill="#1a1a1a"/>
<circle cx="302.57" cy="298.30" r="1.15" fill="#1a1a1a"/>
<line x1="307.30" y1="300.90" x2="323.90" y2="300.90" stroke="#333" stroke-width="1.05"/>
<circle cx="315.60" cy="298.30" r="1.15" fill="#1a1a1a"/>
<text x="288.65" y="359.50" font-size="8.50" text-anchor="middle" fill="#000" font-weight="bold" textLength="11.36" lengthAdjust="spacingAndGlyphs" stroke="#000" stroke-width="0.30">NT</text>
<rect x="305.20" y="356.10" width="5.60" height="1.40" fill="#111"/>
<text x="327.00" y="359.50" font-size="8.50" text-anchor="middle" fill="#000" font-weight="bold" textLength="15.96" lengthAdjust="spacingAndGlyphs" stroke="#000" stroke-width="0.30">TAK</text>
<line x1="300.90" y1="360.90" x2="333.70" y2="360.90" stroke="#222" stroke-width="1.05"/>
<text x="314.65" y="370.70" font-size="8.50" text-anchor="middle" fill="#000" font-weight="bold" textLength="27.94" lengthAdjust="spacingAndGlyphs" stroke="#000" stroke-width="0.30">+Heme</text>
<text x="310.70" y="273.60" font-size="9.90" text-anchor="middle" fill="#000" font-weight="bold" textLength="23.70" lengthAdjust="spacingAndGlyphs" stroke="#000" stroke-width="0.20">IL-10</text>
<line x1="366.80" y1="64.20" x2="366.80" y2="129.90" stroke="#555" stroke-width="0.90"/>
<line x1="365.20" y1="129.40" x2="366.80" y2="129.40" stroke="#555" stroke-width="0.80"/>
<text x="364.90" y="131.10" font-size="4.80" text-anchor="end" fill="#111" font-weight="bold" stroke="#111" stroke-width="0.15">0.0</text>
<line x1="365.20" y1="107.83" x2="366.80" y2="107.83" stroke="#555" stroke-width="0.80"/>
<text x="364.90" y="109.53" font-size="4.80" text-anchor="end" fill="#111" font-weight="bold" stroke="#111" stroke-width="0.15">0.5</text>
<line x1="365.20" y1="86.27" x2="366.80" y2="86.27" stroke="#555" stroke-width="0.80"/>
<text x="364.90" y="87.97" font-size="4.80" text-anchor="end" fill="#111" font-weight="bold" stroke="#111" stroke-width="0.15">1.0</text>
<line x1="365.20" y1="64.70" x2="366.80" y2="64.70" stroke="#555" stroke-width="0.80"/>
<text x="364.90" y="66.40" font-size="4.80" text-anchor="end" fill="#111" font-weight="bold" stroke="#111" stroke-width="0.15">1.5</text>
<text x="355.80" y="97.05" font-size="7.00" text-anchor="middle" fill="#000" font-weight="bold" textLength="14.50" lengthAdjust="spacingAndGlyphs" transform="rotate(-90 355.80 97.05)" stroke="#000" stroke-width="0.15">RFU</text>
<rect x="371.35" y="86.82" width="15.70" height="42.58" fill="#fff" stroke="#000" stroke-width="1.10"/>
<line x1="398.40" y1="80.01" x2="398.40" y2="79.58" stroke="#000" stroke-width="1.00"/>
<line x1="394.60" y1="79.58" x2="402.20" y2="79.58" stroke="#000" stroke-width="1.25"/>
<rect x="390.75" y="80.56" width="15.30" height="48.84" fill="#000" stroke="#000" stroke-width="1.10"/>
<line x1="417.60" y1="84.11" x2="417.60" y2="83.68" stroke="#000" stroke-width="1.00"/>
<line x1="413.80" y1="83.68" x2="421.40" y2="83.68" stroke="#000" stroke-width="1.25"/>
<rect x="409.75" y="84.66" width="15.70" height="44.74" fill="#8c8c8c" stroke="#000" stroke-width="1.10"/>
<line x1="366.30" y1="129.40" x2="427.80" y2="129.40" stroke="#222" stroke-width="1.00"/>
<line x1="381.20" y1="75.40" x2="397.50" y2="75.40" stroke="#333" stroke-width="1.05"/>
<circle cx="385.90" cy="72.80" r="1.15" fill="#1a1a1a"/>
<circle cx="389.35" cy="72.80" r="1.15" fill="#1a1a1a"/>
<circle cx="392.80" cy="72.80" r="1.15" fill="#1a1a1a"/>
<line x1="400.40" y1="75.40" x2="417.20" y2="75.40" stroke="#333" stroke-width="1.05"/>
<circle cx="408.80" cy="72.80" r="1.15" fill="#1a1a1a"/>
<text x="379.80" y="137.80" font-size="8.50" text-anchor="middle" fill="#000" font-weight="bold" textLength="11.36" lengthAdjust="spacingAndGlyphs" stroke="#000" stroke-width="0.30">NT</text>
<rect x="396.10" y="134.40" width="5.60" height="1.40" fill="#111"/>
<text x="418.00" y="137.80" font-size="8.50" text-anchor="middle" fill="#000" font-weight="bold" textLength="15.96" lengthAdjust="spacingAndGlyphs" stroke="#000" stroke-width="0.30">TAK</text>
<line x1="392.00" y1="139.10" x2="424.70" y2="139.10" stroke="#222" stroke-width="1.05"/>
<text x="405.60" y="149.60" font-size="8.50" text-anchor="middle" fill="#000" font-weight="bold" textLength="27.94" lengthAdjust="spacingAndGlyphs" stroke="#000" stroke-width="0.30">+Heme</text>
<text x="409.20" y="56.90" font-size="9.90" text-anchor="middle" fill="#000" font-weight="bold" textLength="31.35" lengthAdjust="spacingAndGlyphs" stroke="#000" stroke-width="0.20">MHC II</text>
<line x1="452.30" y1="64.20" x2="452.30" y2="129.90" stroke="#555" stroke-width="0.90"/>
<line x1="450.70" y1="129.40" x2="452.30" y2="129.40" stroke="#555" stroke-width="0.80"/>
<text x="450.40" y="131.10" font-size="4.80" text-anchor="end" fill="#111" font-weight="bold" stroke="#111" stroke-width="0.15">0.0</text>
<line x1="450.70" y1="107.83" x2="452.30" y2="107.83" stroke="#555" stroke-width="0.80"/>
<text x="450.40" y="109.53" font-size="4.80" text-anchor="end" fill="#111" font-weight="bold" stroke="#111" stroke-width="0.15">0.5</text>
<line x1="450.70" y1="86.27" x2="452.30" y2="86.27" stroke="#555" stroke-width="0.80"/>
<text x="450.40" y="87.97" font-size="4.80" text-anchor="end" fill="#111" font-weight="bold" stroke="#111" stroke-width="0.15">1.0</text>
<line x1="450.70" y1="64.70" x2="452.30" y2="64.70" stroke="#555" stroke-width="0.80"/>
<text x="450.40" y="66.40" font-size="4.80" text-anchor="end" fill="#111" font-weight="bold" stroke="#111" stroke-width="0.15">1.5</text>
<text x="441.00" y="97.05" font-size="7.00" text-anchor="middle" fill="#000" font-weight="bold" textLength="14.50" lengthAdjust="spacingAndGlyphs" transform="rotate(-90 441.00 97.05)" stroke="#000" stroke-width="0.15">RFU</text>
<line x1="464.85" y1="86.27" x2="464.85" y2="85.84" stroke="#000" stroke-width="1.00"/>
<line x1="461.05" y1="85.84" x2="468.65" y2="85.84" stroke="#000" stroke-width="1.25"/>
<rect x="456.75" y="86.82" width="16.20" height="42.58" fill="#fff" stroke="#000" stroke-width="1.10"/>
<line x1="483.95" y1="126.38" x2="483.95" y2="125.95" stroke="#000" stroke-width="1.00"/>
<line x1="480.15" y1="125.95" x2="487.75" y2="125.95" stroke="#000" stroke-width="1.25"/>
<rect x="476.25" y="126.93" width="15.40" height="2.47" fill="#000" stroke="#000" stroke-width="1.10"/>
<line x1="503.05" y1="123.36" x2="503.05" y2="120.77" stroke="#000" stroke-width="1.00"/>
<line x1="499.25" y1="120.77" x2="506.85" y2="120.77" stroke="#000" stroke-width="1.25"/>
<rect x="495.15" y="123.91" width="15.80" height="5.49" fill="#8c8c8c" stroke="#000" stroke-width="1.10"/>
<line x1="451.80" y1="129.40" x2="513.30" y2="129.40" stroke="#222" stroke-width="1.00"/>
<line x1="466.20" y1="80.10" x2="480.70" y2="80.10" stroke="#333" stroke-width="1.05"/>
<circle cx="468.27" cy="77.50" r="1.15" fill="#1a1a1a"/>
<circle cx="471.72" cy="77.50" r="1.15" fill="#1a1a1a"/>
<circle cx="475.18" cy="77.50" r="1.15" fill="#1a1a1a"/>
<circle cx="478.62" cy="77.50" r="1.15" fill="#1a1a1a"/>
<text x="465.45" y="137.80" font-size="8.50" text-anchor="middle" fill="#000" font-weight="bold" textLength="11.36" lengthAdjust="spacingAndGlyphs" stroke="#000" stroke-width="0.30">NT</text>
<rect x="481.65" y="134.40" width="5.60" height="1.40" fill="#111"/>
<text x="503.45" y="137.80" font-size="8.50" text-anchor="middle" fill="#000" font-weight="bold" textLength="15.96" lengthAdjust="spacingAndGlyphs" stroke="#000" stroke-width="0.30">TAK</text>
<line x1="477.50" y1="139.10" x2="510.20" y2="139.10" stroke="#222" stroke-width="1.05"/>
<text x="491.10" y="149.60" font-size="8.50" text-anchor="middle" fill="#000" font-weight="bold" textLength="27.94" lengthAdjust="spacingAndGlyphs" stroke="#000" stroke-width="0.30">+Heme</text>
<text x="484.70" y="56.90" font-size="9.90" text-anchor="middle" fill="#000" font-weight="bold" textLength="30.76" lengthAdjust="spacingAndGlyphs" stroke="#000" stroke-width="0.20">CD206</text>
<line x1="367.30" y1="170.80" x2="367.30" y2="237.30" stroke="#555" stroke-width="0.90"/>
<line x1="365.70" y1="236.80" x2="367.30" y2="236.80" stroke="#555" stroke-width="0.80"/>
<text x="365.40" y="238.50" font-size="4.80" text-anchor="end" fill="#111" font-weight="bold" stroke="#111" stroke-width="0.15">0</text>
<line x1="365.70" y1="220.43" x2="367.30" y2="220.43" stroke="#555" stroke-width="0.80"/>
<text x="365.40" y="222.12" font-size="4.80" text-anchor="end" fill="#111" font-weight="bold" stroke="#111" stroke-width="0.15">3</text>
<line x1="365.70" y1="204.05" x2="367.30" y2="204.05" stroke="#555" stroke-width="0.80"/>
<text x="365.40" y="205.75" font-size="4.80" text-anchor="end" fill="#111" font-weight="bold" stroke="#111" stroke-width="0.15">6</text>
<line x1="365.70" y1="187.68" x2="367.30" y2="187.68" stroke="#555" stroke-width="0.80"/>
<text x="365.40" y="189.38" font-size="4.80" text-anchor="end" fill="#111" font-weight="bold" stroke="#111" stroke-width="0.15">9</text>
<line x1="365.70" y1="171.30" x2="367.30" y2="171.30" stroke="#555" stroke-width="0.80"/>
<text x="365.40" y="173.00" font-size="4.80" text-anchor="end" fill="#111" font-weight="bold" stroke="#111" stroke-width="0.15">12</text>
<text x="357.30" y="204.05" font-size="7.00" text-anchor="middle" fill="#000" font-weight="bold" textLength="14.50" lengthAdjust="spacingAndGlyphs" transform="rotate(-90 357.30 204.05)" stroke="#000" stroke-width="0.15">RFU</text>
<rect x="371.75" y="231.89" width="16.20" height="4.91" fill="#fff" stroke="#000" stroke-width="1.10"/>
<line x1="399.50" y1="185.27" x2="399.50" y2="184.95" stroke="#000" stroke-width="1.00"/>
<line x1="395.70" y1="184.95" x2="403.30" y2="184.95" stroke="#000" stroke-width="1.25"/>
<rect x="391.55" y="185.82" width="15.90" height="50.98" fill="#000" stroke="#000" stroke-width="1.10"/>
<line x1="419.15" y1="202.79" x2="419.15" y2="201.87" stroke="#000" stroke-width="1.00"/>
<line x1="415.35" y1="201.87" x2="422.95" y2="201.87" stroke="#000" stroke-width="1.25"/>
<rect x="411.15" y="203.34" width="16.00" height="33.46" fill="#8c8c8c" stroke="#000" stroke-width="1.10"/>
<line x1="366.80" y1="236.80" x2="429.50" y2="236.80" stroke="#222" stroke-width="1.00"/>
<line x1="382.40" y1="180.50" x2="398.80" y2="180.50" stroke="#333" stroke-width="1.05"/>
<circle cx="385.43" cy="177.90" r="1.15" fill="#1a1a1a"/>
<circle cx="388.88" cy="177.90" r="1.15" fill="#1a1a1a"/>
<circle cx="392.33" cy="177.90" r="1.15" fill="#1a1a1a"/>
<circle cx="395.78" cy="177.90" r="1.15" fill="#1a1a1a"/>
<line x1="400.90" y1="180.50" x2="418.20" y2="180.50" stroke="#333" stroke-width="1.05"/>
<circle cx="404.37" cy="177.90" r="1.15" fill="#1a1a1a"/>
<circle cx="407.82" cy="177.90" r="1.15" fill="#1a1a1a"/>
<circle cx="411.27" cy="177.90" r="1.15" fill="#1a1a1a"/>
<circle cx="414.72" cy="177.90" r="1.15" fill="#1a1a1a"/>
<text x="380.45" y="245.40" font-size="8.50" text-anchor="middle" fill="#000" font-weight="bold" textLength="11.36" lengthAdjust="spacingAndGlyphs" stroke="#000" stroke-width="0.30">NT</text>
<rect x="397.20" y="242.00" width="5.60" height="1.40" fill="#111"/>
<text x="419.55" y="245.40" font-size="8.50" text-anchor="middle" fill="#000" font-weight="bold" textLength="15.96" lengthAdjust="spacingAndGlyphs" stroke="#000" stroke-width="0.30">TAK</text>
<line x1="392.80" y1="246.40" x2="426.40" y2="246.40" stroke="#222" stroke-width="1.05"/>
<text x="406.93" y="256.70" font-size="8.50" text-anchor="middle" fill="#000" font-weight="bold" textLength="27.94" lengthAdjust="spacingAndGlyphs" stroke="#000" stroke-width="0.30">+Heme</text>
<text x="401.40" y="164.00" font-size="9.90" text-anchor="middle" fill="#000" font-weight="bold" textLength="24.95" lengthAdjust="spacingAndGlyphs" stroke="#000" stroke-width="0.20">CD14</text>
<line x1="452.60" y1="170.80" x2="452.60" y2="201.10" stroke="#555" stroke-width="0.90"/>
<line x1="452.60" y1="205.30" x2="452.60" y2="237.30" stroke="#555" stroke-width="0.90"/>
<line x1="451.00" y1="171.30" x2="452.60" y2="171.30" stroke="#555" stroke-width="0.80"/>
<text x="450.70" y="173.00" font-size="4.80" text-anchor="end" fill="#111" font-weight="bold" stroke="#111" stroke-width="0.15">1.6</text>
<line x1="451.00" y1="185.50" x2="452.60" y2="185.50" stroke="#555" stroke-width="0.80"/>
<text x="450.70" y="187.20" font-size="4.80" text-anchor="end" fill="#111" font-weight="bold" stroke="#111" stroke-width="0.15">1.2</text>
<line x1="451.00" y1="199.70" x2="452.60" y2="199.70" stroke="#555" stroke-width="0.80"/>
<text x="450.70" y="201.40" font-size="4.80" text-anchor="end" fill="#111" font-weight="bold" stroke="#111" stroke-width="0.15">0.8</text>
<line x1="451.00" y1="206.20" x2="452.60" y2="206.20" stroke="#555" stroke-width="0.80"/>
<text x="450.70" y="207.90" font-size="4.80" text-anchor="end" fill="#111" font-weight="bold" stroke="#111" stroke-width="0.15">0.2</text>
<line x1="451.00" y1="221.50" x2="452.60" y2="221.50" stroke="#555" stroke-width="0.80"/>
<text x="450.70" y="223.20" font-size="4.80" text-anchor="end" fill="#111" font-weight="bold" stroke="#111" stroke-width="0.15">0.1</text>
<line x1="451.00" y1="236.80" x2="452.60" y2="236.80" stroke="#555" stroke-width="0.80"/>
<text x="450.70" y="238.50" font-size="4.80" text-anchor="end" fill="#111" font-weight="bold" stroke="#111" stroke-width="0.15">0.0</text>
<line x1="452.60" y1="201.10" x2="454.20" y2="201.90" stroke="#555" stroke-width="0.70"/>
<line x1="451.00" y1="204.70" x2="452.60" y2="205.30" stroke="#555" stroke-width="0.70"/>
<text x="443.00" y="203.55" font-size="7.00" text-anchor="middle" fill="#000" font-weight="bold" textLength="10.57" lengthAdjust="spacingAndGlyphs" transform="rotate(-90 443.00 203.55)" stroke="#000" stroke-width="0.15">RQ</text>
<line x1="465.80" y1="190.40" x2="465.80" y2="187.63" stroke="#000" stroke-width="1.00"/>
<line x1="462.00" y1="187.63" x2="469.60" y2="187.63" stroke="#000" stroke-width="1.25"/>
<rect x="457.85" y="190.95" width="15.90" height="45.85" fill="#fff"/>
<line x1="457.30" y1="190.95" x2="474.30" y2="190.95" stroke="#000" stroke-width="1.10"/>
<line x1="457.85" y1="190.40" x2="457.85" y2="201.10" stroke="#000" stroke-width="1.10"/>
<line x1="457.85" y1="206.10" x2="457.85" y2="236.80" stroke="#000" stroke-width="1.10"/>
<line x1="473.75" y1="190.40" x2="473.75" y2="201.10" stroke="#000" stroke-width="1.10"/>
<line x1="473.75" y1="206.10" x2="473.75" y2="236.80" stroke="#000" stroke-width="1.10"/>
<line x1="484.70" y1="233.28" x2="484.70" y2="232.82" stroke="#000" stroke-width="1.00"/>
<line x1="480.90" y1="232.82" x2="488.50" y2="232.82" stroke="#000" stroke-width="1.25"/>
<rect x="476.95" y="233.83" width="15.50" height="2.97" fill="#000" stroke="#000" stroke-width="1.10"/>
<line x1="504.35" y1="218.59" x2="504.35" y2="217.68" stroke="#000" stroke-width="1.00"/>
<line x1="500.55" y1="217.68" x2="508.15" y2="217.68" stroke="#000" stroke-width="1.25"/>
<rect x="496.85" y="219.14" width="15.00" height="17.66" fill="#8c8c8c" stroke="#000" stroke-width="1.10"/>
<line x1="452.10" y1="236.80" x2="514.20" y2="236.80" stroke="#222" stroke-width="1.00"/>
<line x1="465.50" y1="184.20" x2="482.50" y2="184.20" stroke="#333" stroke-width="1.05"/>
<circle cx="468.82" cy="181.60" r="1.15" fill="#1a1a1a"/>
<circle cx="472.27" cy="181.60" r="1.15" fill="#1a1a1a"/>
<circle cx="475.73" cy="181.60" r="1.15" fill="#1a1a1a"/>
<circle cx="479.18" cy="181.60" r="1.15" fill="#1a1a1a"/>
<line x1="488.20" y1="213.40" x2="502.90" y2="213.40" stroke="#333" stroke-width="1.05"/>
<circle cx="495.55" cy="210.80" r="1.15" fill="#1a1a1a"/>
<text x="466.40" y="245.40" font-size="8.50" text-anchor="middle" fill="#000" font-weight="bold" textLength="11.36" lengthAdjust="spacingAndGlyphs" stroke="#000" stroke-width="0.30">NT</text>
<rect x="482.40" y="242.00" width="5.60" height="1.40" fill="#111"/>
<text x="504.75" y="245.40" font-size="8.50" text-anchor="middle" fill="#000" font-weight="bold" textLength="15.96" lengthAdjust="spacingAndGlyphs" stroke="#000" stroke-width="0.30">TAK</text>
<line x1="478.20" y1="246.40" x2="511.10" y2="246.40" stroke="#222" stroke-width="1.05"/>
<text x="492.12" y="256.70" font-size="8.50" text-anchor="middle" fill="#000" font-weight="bold" textLength="27.94" lengthAdjust="spacingAndGlyphs" stroke="#000" stroke-width="0.30">+Heme</text>
<text x="485.20" y="161.80" font-size="9.90" text-anchor="middle" fill="#000" font-weight="bold" textLength="49.01" lengthAdjust="spacingAndGlyphs" stroke="#000" stroke-width="0.20">Arginase 1</text>
<line x1="367.30" y1="285.70" x2="367.30" y2="352.20" stroke="#555" stroke-width="0.90"/>
<line x1="365.70" y1="351.70" x2="367.30" y2="351.70" stroke="#555" stroke-width="0.80"/>
<text x="365.40" y="353.40" font-size="4.80" text-anchor="end" fill="#111" font-weight="bold" stroke="#111" stroke-width="0.15">0</text>
<line x1="365.70" y1="340.78" x2="367.30" y2="340.78" stroke="#555" stroke-width="0.80"/>
<text x="365.40" y="342.48" font-size="4.80" text-anchor="end" fill="#111" font-weight="bold" stroke="#111" stroke-width="0.15">3</text>
<line x1="365.70" y1="329.87" x2="367.30" y2="329.87" stroke="#555" stroke-width="0.80"/>
<text x="365.40" y="331.57" font-size="4.80" text-anchor="end" fill="#111" font-weight="bold" stroke="#111" stroke-width="0.15">6</text>
<line x1="365.70" y1="318.95" x2="367.30" y2="318.95" stroke="#555" stroke-width="0.80"/>
<text x="365.40" y="320.65" font-size="4.80" text-anchor="end" fill="#111" font-weight="bold" stroke="#111" stroke-width="0.15">9</text>
<line x1="365.70" y1="308.03" x2="367.30" y2="308.03" stroke="#555" stroke-width="0.80"/>
<text x="365.40" y="309.73" font-size="4.80" text-anchor="end" fill="#111" font-weight="bold" stroke="#111" stroke-width="0.15">12</text>
<line x1="365.70" y1="297.12" x2="367.30" y2="297.12" stroke="#555" stroke-width="0.80"/>
<text x="365.40" y="298.82" font-size="4.80" text-anchor="end" fill="#111" font-weight="bold" stroke="#111" stroke-width="0.15">15</text>
<line x1="365.70" y1="286.20" x2="367.30" y2="286.20" stroke="#555" stroke-width="0.80"/>
<text x="365.40" y="287.90" font-size="4.80" text-anchor="end" fill="#111" font-weight="bold" stroke="#111" stroke-width="0.15">18</text>
<text x="356.90" y="318.95" font-size="7.00" text-anchor="middle" fill="#000" font-weight="bold" textLength="11.00" lengthAdjust="spacingAndGlyphs" transform="rotate(-90 356.90 318.95)" stroke="#000" stroke-width="0.15">RQ</text>
<line x1="379.65" y1="348.06" x2="379.65" y2="347.70" stroke="#000" stroke-width="1.00"/>
<line x1="375.85" y1="347.70" x2="383.45" y2="347.70" stroke="#000" stroke-width="1.25"/>
<rect x="371.35" y="348.61" width="16.60" height="3.09" fill="#fff" stroke="#000" stroke-width="1.10"/>
<line x1="399.15" y1="297.12" x2="399.15" y2="293.48" stroke="#000" stroke-width="1.00"/>
<line x1="395.35" y1="293.48" x2="402.95" y2="293.48" stroke="#000" stroke-width="1.25"/>
<rect x="391.05" y="297.67" width="16.20" height="54.03" fill="#000" stroke="#000" stroke-width="1.10"/>
<line x1="418.05" y1="338.96" x2="418.05" y2="337.87" stroke="#000" stroke-width="1.00"/>
<line x1="414.25" y1="337.87" x2="421.85" y2="337.87" stroke="#000" stroke-width="1.25"/>
<rect x="409.75" y="339.51" width="16.60" height="12.19" fill="#8c8c8c" stroke="#000" stroke-width="1.10"/>
<line x1="366.80" y1="351.70" x2="428.70" y2="351.70" stroke="#222" stroke-width="1.00"/>
<line x1="381.50" y1="291.00" x2="398.80" y2="291.00" stroke="#333" stroke-width="1.05"/>
<circle cx="384.97" cy="288.40" r="1.15" fill="#1a1a1a"/>
<circle cx="388.42" cy="288.40" r="1.15" fill="#1a1a1a"/>
<circle cx="391.88" cy="288.40" r="1.15" fill="#1a1a1a"/>
<circle cx="395.32" cy="288.40" r="1.15" fill="#1a1a1a"/>
<line x1="400.90" y1="291.00" x2="417.50" y2="291.00" stroke="#333" stroke-width="1.05"/>
<circle cx="404.02" cy="288.40" r="1.15" fill="#1a1a1a"/>
<circle cx="407.47" cy="288.40" r="1.15" fill="#1a1a1a"/>
<circle cx="410.93" cy="288.40" r="1.15" fill="#1a1a1a"/>
<circle cx="414.38" cy="288.40" r="1.15" fill="#1a1a1a"/>
<text x="380.25" y="359.50" font-size="8.50" text-anchor="middle" fill="#000" font-weight="bold" textLength="11.36" lengthAdjust="spacingAndGlyphs" stroke="#000" stroke-width="0.30">NT</text>
<rect x="396.85" y="356.10" width="5.60" height="1.40" fill="#111"/>
<text x="418.45" y="359.50" font-size="8.50" text-anchor="middle" fill="#000" font-weight="bold" textLength="15.96" lengthAdjust="spacingAndGlyphs" stroke="#000" stroke-width="0.30">TAK</text>
<line x1="392.30" y1="360.90" x2="425.60" y2="360.90" stroke="#222" stroke-width="1.05"/>
<text x="406.20" y="370.70" font-size="8.50" text-anchor="middle" fill="#000" font-weight="bold" textLength="27.94" lengthAdjust="spacingAndGlyphs" stroke="#000" stroke-width="0.30">+Heme</text>
<text x="403.90" y="275.00" font-size="9.90" text-anchor="middle" fill="#000" font-weight="bold" textLength="24.40" lengthAdjust="spacingAndGlyphs" stroke="#000" stroke-width="0.20">TNFα</text>
<line x1="451.80" y1="284.80" x2="451.80" y2="351.00" stroke="#555" stroke-width="0.90"/>
<line x1="450.20" y1="350.50" x2="451.80" y2="350.50" stroke="#555" stroke-width="0.80"/>
<text x="449.90" y="352.20" font-size="4.80" text-anchor="end" fill="#111" font-weight="bold" stroke="#111" stroke-width="0.15">0.0</text>
<line x1="450.20" y1="328.77" x2="451.80" y2="328.77" stroke="#555" stroke-width="0.80"/>
<text x="449.90" y="330.47" font-size="4.80" text-anchor="end" fill="#111" font-weight="bold" stroke="#111" stroke-width="0.15">0.5</text>
<line x1="450.20" y1="307.03" x2="451.80" y2="307.03" stroke="#555" stroke-width="0.80"/>
<text x="449.90" y="308.73" font-size="4.80" text-anchor="end" fill="#111" font-weight="bold" stroke="#111" stroke-width="0.15">1.0</text>
<line x1="450.20" y1="285.30" x2="451.80" y2="285.30" stroke="#555" stroke-width="0.80"/>
<text x="449.90" y="287.00" font-size="4.80" text-anchor="end" fill="#111" font-weight="bold" stroke="#111" stroke-width="0.15">1.5</text>
<text x="440.60" y="317.90" font-size="7.00" text-anchor="middle" fill="#000" font-weight="bold" textLength="11.00" lengthAdjust="spacingAndGlyphs" transform="rotate(-90 440.60 317.90)" stroke="#000" stroke-width="0.15">RQ</text>
<line x1="463.95" y1="307.03" x2="463.95" y2="296.17" stroke="#000" stroke-width="1.00"/>
<line x1="460.15" y1="296.17" x2="467.75" y2="296.17" stroke="#000" stroke-width="1.25"/>
<rect x="455.85" y="307.58" width="16.20" height="42.92" fill="#fff" stroke="#000" stroke-width="1.10"/>
<line x1="483.50" y1="346.15" x2="483.50" y2="345.72" stroke="#000" stroke-width="1.00"/>
<line x1="479.70" y1="345.72" x2="487.30" y2="345.72" stroke="#000" stroke-width="1.25"/>
<rect x="475.35" y="346.70" width="16.30" height="3.80" fill="#000" stroke="#000" stroke-width="1.10"/>
<line x1="502.60" y1="320.07" x2="502.60" y2="317.90" stroke="#000" stroke-width="1.00"/>
<line x1="498.80" y1="317.90" x2="506.40" y2="317.90" stroke="#000" stroke-width="1.25"/>
<rect x="494.75" y="320.62" width="15.70" height="29.88" fill="#8c8c8c" stroke="#000" stroke-width="1.10"/>
<line x1="451.30" y1="350.50" x2="512.80" y2="350.50" stroke="#222" stroke-width="1.00"/>
<line x1="463.90" y1="292.70" x2="480.40" y2="292.70" stroke="#333" stroke-width="1.05"/>
<circle cx="470.42" cy="290.10" r="1.15" fill="#1a1a1a"/>
<circle cx="473.88" cy="290.10" r="1.15" fill="#1a1a1a"/>
<line x1="485.90" y1="314.70" x2="501.20" y2="314.70" stroke="#333" stroke-width="1.05"/>
<circle cx="493.55" cy="312.10" r="1.15" fill="#1a1a1a"/>
<text x="464.55" y="359.50" font-size="8.50" text-anchor="middle" fill="#000" font-weight="bold" textLength="11.36" lengthAdjust="spacingAndGlyphs" stroke="#000" stroke-width="0.30">NT</text>
<rect x="481.20" y="356.10" width="5.60" height="1.40" fill="#111"/>
<text x="503.00" y="359.50" font-size="8.50" text-anchor="middle" fill="#000" font-weight="bold" textLength="15.96" lengthAdjust="spacingAndGlyphs" stroke="#000" stroke-width="0.30">TAK</text>
<line x1="476.60" y1="360.90" x2="509.70" y2="360.90" stroke="#222" stroke-width="1.05"/>
<text x="490.65" y="370.70" font-size="8.50" text-anchor="middle" fill="#000" font-weight="bold" textLength="27.94" lengthAdjust="spacingAndGlyphs" stroke="#000" stroke-width="0.30">+Heme</text>
<text x="485.20" y="273.60" font-size="9.90" text-anchor="middle" fill="#000" font-weight="bold" textLength="23.70" lengthAdjust="spacingAndGlyphs" stroke="#000" stroke-width="0.20">IL-10</text>
<line x1="17.30" y1="448.90" x2="17.30" y2="515.30" stroke="#555" stroke-width="0.90"/>
<line x1="15.70" y1="514.80" x2="17.30" y2="514.80" stroke="#555" stroke-width="0.80"/>
<text x="15.40" y="516.50" font-size="4.80" text-anchor="end" fill="#111" font-weight="bold" stroke="#111" stroke-width="0.15">0.0</text>
<line x1="15.70" y1="498.45" x2="17.30" y2="498.45" stroke="#555" stroke-width="0.80"/>
<text x="15.40" y="500.15" font-size="4.80" text-anchor="end" fill="#111" font-weight="bold" stroke="#111" stroke-width="0.15">0.5</text>
<line x1="15.70" y1="482.10" x2="17.30" y2="482.10" stroke="#555" stroke-width="0.80"/>
<text x="15.40" y="483.80" font-size="4.80" text-anchor="end" fill="#111" font-weight="bold" stroke="#111" stroke-width="0.15">1.0</text>
<line x1="15.70" y1="465.75" x2="17.30" y2="465.75" stroke="#555" stroke-width="0.80"/>
<text x="15.40" y="467.45" font-size="4.80" text-anchor="end" fill="#111" font-weight="bold" stroke="#111" stroke-width="0.15">1.5</text>
<line x1="15.70" y1="449.40" x2="17.30" y2="449.40" stroke="#555" stroke-width="0.80"/>
<text x="15.40" y="451.10" font-size="4.80" text-anchor="end" fill="#111" font-weight="bold" stroke="#111" stroke-width="0.15">2.0</text>
<text x="7.20" y="482.10" font-size="7.00" text-anchor="middle" fill="#000" font-weight="bold" textLength="14.50" lengthAdjust="spacingAndGlyphs" transform="rotate(-90 7.20 482.10)" stroke="#000" stroke-width="0.15">RFU</text>
<line x1="29.75" y1="482.10" x2="29.75" y2="479.48" stroke="#000" stroke-width="1.00"/>
<line x1="25.95" y1="479.48" x2="33.55" y2="479.48" stroke="#000" stroke-width="1.25"/>
<rect x="21.65" y="482.65" width="16.20" height="32.15" fill="#fff" stroke="#000" stroke-width="1.10"/>
<line x1="49.35" y1="462.48" x2="49.35" y2="457.25" stroke="#000" stroke-width="1.00"/>
<line x1="45.55" y1="457.25" x2="53.15" y2="457.25" stroke="#000" stroke-width="1.25"/>
<rect x="41.25" y="463.03" width="16.20" height="51.77" fill="#000" stroke="#000" stroke-width="1.10"/>
<line x1="68.35" y1="488.97" x2="68.35" y2="486.68" stroke="#000" stroke-width="1.00"/>
<line x1="64.55" y1="486.68" x2="72.15" y2="486.68" stroke="#000" stroke-width="1.25"/>
<rect x="60.25" y="489.52" width="16.20" height="25.28" fill="#8c8c8c" stroke="#000" stroke-width="1.10"/>
<line x1="16.80" y1="514.80" x2="78.80" y2="514.80" stroke="#222" stroke-width="1.00"/>
<line x1="31.50" y1="454.40" x2="48.10" y2="454.40" stroke="#333" stroke-width="1.05"/>
<circle cx="34.62" cy="451.80" r="1.15" fill="#1a1a1a"/>
<circle cx="38.07" cy="451.80" r="1.15" fill="#1a1a1a"/>
<circle cx="41.52" cy="451.80" r="1.15" fill="#1a1a1a"/>
<circle cx="44.97" cy="451.80" r="1.15" fill="#1a1a1a"/>
<line x1="50.50" y1="454.40" x2="66.60" y2="454.40" stroke="#333" stroke-width="1.05"/>
<circle cx="55.10" cy="451.80" r="1.15" fill="#1a1a1a"/>
<circle cx="58.55" cy="451.80" r="1.15" fill="#1a1a1a"/>
<circle cx="62.00" cy="451.80" r="1.15" fill="#1a1a1a"/>
<text x="30.35" y="524.80" font-size="8.50" text-anchor="middle" fill="#000" font-weight="bold" textLength="11.36" lengthAdjust="spacingAndGlyphs" stroke="#000" stroke-width="0.30">NT</text>
<rect x="47.05" y="521.40" width="5.60" height="1.40" fill="#111"/>
<text x="68.85" y="524.80" font-size="8.50" text-anchor="middle" fill="#000" font-weight="bold" textLength="18.40" lengthAdjust="spacingAndGlyphs" stroke="#000" stroke-width="0.30">NAC</text>
<line x1="42.50" y1="525.90" x2="75.70" y2="525.90" stroke="#222" stroke-width="1.05"/>
<text x="56.45" y="536.00" font-size="8.50" text-anchor="middle" fill="#000" font-weight="bold" textLength="27.94" lengthAdjust="spacingAndGlyphs" stroke="#000" stroke-width="0.30">+Heme</text>
<text x="52.75" y="437.50" font-size="9.90" text-anchor="middle" fill="#000" font-weight="bold" textLength="31.35" lengthAdjust="spacingAndGlyphs" stroke="#000" stroke-width="0.20">MHC II</text>
<line x1="98.20" y1="448.90" x2="98.20" y2="515.30" stroke="#555" stroke-width="0.90"/>
<line x1="96.60" y1="514.80" x2="98.20" y2="514.80" stroke="#555" stroke-width="0.80"/>
<text x="96.30" y="516.50" font-size="4.80" text-anchor="end" fill="#111" font-weight="bold" stroke="#111" stroke-width="0.15">0.0</text>
<line x1="96.60" y1="493.00" x2="98.20" y2="493.00" stroke="#555" stroke-width="0.80"/>
<text x="96.30" y="494.70" font-size="4.80" text-anchor="end" fill="#111" font-weight="bold" stroke="#111" stroke-width="0.15">0.5</text>
<line x1="96.60" y1="471.20" x2="98.20" y2="471.20" stroke="#555" stroke-width="0.80"/>
<text x="96.30" y="472.90" font-size="4.80" text-anchor="end" fill="#111" font-weight="bold" stroke="#111" stroke-width="0.15">1.0</text>
<line x1="96.60" y1="449.40" x2="98.20" y2="449.40" stroke="#555" stroke-width="0.80"/>
<text x="96.30" y="451.10" font-size="4.80" text-anchor="end" fill="#111" font-weight="bold" stroke="#111" stroke-width="0.15">1.5</text>
<text x="86.80" y="482.10" font-size="7.00" text-anchor="middle" fill="#000" font-weight="bold" textLength="14.50" lengthAdjust="spacingAndGlyphs" transform="rotate(-90 86.80 482.10)" stroke="#000" stroke-width="0.15">RFU</text>
<line x1="110.80" y1="471.20" x2="110.80" y2="470.76" stroke="#000" stroke-width="1.00"/>
<line x1="107.00" y1="470.76" x2="114.60" y2="470.76" stroke="#000" stroke-width="1.25"/>
<rect x="102.85" y="471.75" width="15.90" height="43.05" fill="#fff" stroke="#000" stroke-width="1.10"/>
<line x1="129.80" y1="510.00" x2="129.80" y2="509.57" stroke="#000" stroke-width="1.00"/>
<line x1="126.00" y1="509.57" x2="133.60" y2="509.57" stroke="#000" stroke-width="1.25"/>
<rect x="121.85" y="510.55" width="15.90" height="4.25" fill="#000" stroke="#000" stroke-width="1.10"/>
<line x1="148.85" y1="500.41" x2="148.85" y2="496.92" stroke="#000" stroke-width="1.00"/>
<line x1="145.05" y1="496.92" x2="152.65" y2="496.92" stroke="#000" stroke-width="1.25"/>
<rect x="140.95" y="500.96" width="15.80" height="13.84" fill="#8c8c8c" stroke="#000" stroke-width="1.10"/>
<line x1="97.70" y1="514.80" x2="159.10" y2="514.80" stroke="#222" stroke-width="1.00"/>
<line x1="109.60" y1="466.50" x2="126.50" y2="466.50" stroke="#333" stroke-width="1.05"/>
<circle cx="112.88" cy="463.90" r="1.15" fill="#1a1a1a"/>
<circle cx="116.33" cy="463.90" r="1.15" fill="#1a1a1a"/>
<circle cx="119.77" cy="463.90" r="1.15" fill="#1a1a1a"/>
<circle cx="123.22" cy="463.90" r="1.15" fill="#1a1a1a"/>
<line x1="133.10" y1="491.10" x2="149.40" y2="491.10" stroke="#333" stroke-width="1.05"/>
<circle cx="139.53" cy="488.50" r="1.15" fill="#1a1a1a"/>
<circle cx="142.97" cy="488.50" r="1.15" fill="#1a1a1a"/>
<text x="111.40" y="524.80" font-size="8.50" text-anchor="middle" fill="#000" font-weight="bold" textLength="11.36" lengthAdjust="spacingAndGlyphs" stroke="#000" stroke-width="0.30">NT</text>
<rect x="127.50" y="521.40" width="5.60" height="1.40" fill="#111"/>
<text x="149.35" y="524.80" font-size="8.50" text-anchor="middle" fill="#000" font-weight="bold" textLength="18.40" lengthAdjust="spacingAndGlyphs" stroke="#000" stroke-width="0.30">NAC</text>
<line x1="123.10" y1="525.90" x2="156.00" y2="525.90" stroke="#222" stroke-width="1.05"/>
<text x="136.93" y="536.00" font-size="8.50" text-anchor="middle" fill="#000" font-weight="bold" textLength="27.94" lengthAdjust="spacingAndGlyphs" stroke="#000" stroke-width="0.30">+Heme</text>
<text x="132.00" y="438.60" font-size="9.90" text-anchor="middle" fill="#000" font-weight="bold" textLength="30.76" lengthAdjust="spacingAndGlyphs" stroke="#000" stroke-width="0.20">CD206</text>
<line x1="16.60" y1="561.80" x2="16.60" y2="628.60" stroke="#555" stroke-width="0.90"/>
<line x1="15.00" y1="628.10" x2="16.60" y2="628.10" stroke="#555" stroke-width="0.80"/>
<text x="14.70" y="629.80" font-size="4.80" text-anchor="end" fill="#111" font-weight="bold" stroke="#111" stroke-width="0.15">0</text>
<line x1="15.00" y1="611.65" x2="16.60" y2="611.65" stroke="#555" stroke-width="0.80"/>
<text x="14.70" y="613.35" font-size="4.80" text-anchor="end" fill="#111" font-weight="bold" stroke="#111" stroke-width="0.15">1</text>
<line x1="15.00" y1="595.20" x2="16.60" y2="595.20" stroke="#555" stroke-width="0.80"/>
<text x="14.70" y="596.90" font-size="4.80" text-anchor="end" fill="#111" font-weight="bold" stroke="#111" stroke-width="0.15">2</text>
<line x1="15.00" y1="578.75" x2="16.60" y2="578.75" stroke="#555" stroke-width="0.80"/>
<text x="14.70" y="580.45" font-size="4.80" text-anchor="end" fill="#111" font-weight="bold" stroke="#111" stroke-width="0.15">3</text>
<line x1="15.00" y1="562.30" x2="16.60" y2="562.30" stroke="#555" stroke-width="0.80"/>
<text x="14.70" y="564.00" font-size="4.80" text-anchor="end" fill="#111" font-weight="bold" stroke="#111" stroke-width="0.15">4</text>
<text x="8.30" y="595.20" font-size="7.00" text-anchor="middle" fill="#000" font-weight="bold" textLength="14.50" lengthAdjust="spacingAndGlyphs" transform="rotate(-90 8.30 595.20)" stroke="#000" stroke-width="0.15">RFU</text>
<line x1="29.40" y1="611.65" x2="29.40" y2="610.83" stroke="#000" stroke-width="1.00"/>
<line x1="25.60" y1="610.83" x2="33.20" y2="610.83" stroke="#000" stroke-width="1.25"/>
<rect x="20.95" y="612.20" width="16.90" height="15.90" fill="#fff" stroke="#000" stroke-width="1.10"/>
<line x1="49.90" y1="581.88" x2="49.90" y2="581.22" stroke="#000" stroke-width="1.00"/>
<line x1="46.10" y1="581.22" x2="53.70" y2="581.22" stroke="#000" stroke-width="1.25"/>
<rect x="41.55" y="582.43" width="16.70" height="45.67" fill="#000" stroke="#000" stroke-width="1.10"/>
<line x1="70.05" y1="594.71" x2="70.05" y2="593.55" stroke="#000" stroke-width="1.00"/>
<line x1="66.25" y1="593.55" x2="73.85" y2="593.55" stroke="#000" stroke-width="1.25"/>
<rect x="61.95" y="595.26" width="16.20" height="32.84" fill="#8c8c8c" stroke="#000" stroke-width="1.10"/>
<line x1="16.10" y1="628.10" x2="80.50" y2="628.10" stroke="#222" stroke-width="1.00"/>
<line x1="32.00" y1="576.50" x2="48.50" y2="576.50" stroke="#333" stroke-width="1.05"/>
<circle cx="35.08" cy="573.90" r="1.15" fill="#1a1a1a"/>
<circle cx="38.52" cy="573.90" r="1.15" fill="#1a1a1a"/>
<circle cx="41.98" cy="573.90" r="1.15" fill="#1a1a1a"/>
<circle cx="45.42" cy="573.90" r="1.15" fill="#1a1a1a"/>
<line x1="51.00" y1="576.50" x2="67.50" y2="576.50" stroke="#333" stroke-width="1.05"/>
<circle cx="54.08" cy="573.90" r="1.15" fill="#1a1a1a"/>
<circle cx="57.52" cy="573.90" r="1.15" fill="#1a1a1a"/>
<circle cx="60.98" cy="573.90" r="1.15" fill="#1a1a1a"/>
<circle cx="64.42" cy="573.90" r="1.15" fill="#1a1a1a"/>
<text x="30.00" y="639.10" font-size="8.50" text-anchor="middle" fill="#000" font-weight="bold" textLength="11.36" lengthAdjust="spacingAndGlyphs" stroke="#000" stroke-width="0.30">NT</text>
<rect x="47.60" y="635.70" width="5.60" height="1.40" fill="#111"/>
<text x="70.55" y="639.10" font-size="8.50" text-anchor="middle" fill="#000" font-weight="bold" textLength="18.40" lengthAdjust="spacingAndGlyphs" stroke="#000" stroke-width="0.30">NAC</text>
<line x1="42.80" y1="640.50" x2="77.40" y2="640.50" stroke="#222" stroke-width="1.05"/>
<text x="57.57" y="650.40" font-size="8.50" text-anchor="middle" fill="#000" font-weight="bold" textLength="27.94" lengthAdjust="spacingAndGlyphs" stroke="#000" stroke-width="0.30">+Heme</text>
<text x="50.25" y="553.00" font-size="9.90" text-anchor="middle" fill="#000" font-weight="bold" textLength="24.95" lengthAdjust="spacingAndGlyphs" stroke="#000" stroke-width="0.20">CD14</text>
<line x1="100.10" y1="561.80" x2="100.10" y2="628.60" stroke="#555" stroke-width="0.90"/>
<line x1="98.50" y1="628.10" x2="100.10" y2="628.10" stroke="#555" stroke-width="0.80"/>
<text x="98.20" y="629.80" font-size="4.80" text-anchor="end" fill="#111" font-weight="bold" stroke="#111" stroke-width="0.15">0.0</text>
<line x1="98.50" y1="606.17" x2="100.10" y2="606.17" stroke="#555" stroke-width="0.80"/>
<text x="98.20" y="607.87" font-size="4.80" text-anchor="end" fill="#111" font-weight="bold" stroke="#111" stroke-width="0.15">0.5</text>
<line x1="98.50" y1="584.23" x2="100.10" y2="584.23" stroke="#555" stroke-width="0.80"/>
<text x="98.20" y="585.93" font-size="4.80" text-anchor="end" fill="#111" font-weight="bold" stroke="#111" stroke-width="0.15">1.0</text>
<line x1="98.50" y1="562.30" x2="100.10" y2="562.30" stroke="#555" stroke-width="0.80"/>
<text x="98.20" y="564.00" font-size="4.80" text-anchor="end" fill="#111" font-weight="bold" stroke="#111" stroke-width="0.15">1.5</text>
<text x="89.00" y="595.20" font-size="7.00" text-anchor="middle" fill="#000" font-weight="bold" textLength="11.00" lengthAdjust="spacingAndGlyphs" transform="rotate(-90 89.00 595.20)" stroke="#000" stroke-width="0.15">RQ</text>
<line x1="112.50" y1="583.36" x2="112.50" y2="579.85" stroke="#000" stroke-width="1.00"/>
<line x1="108.70" y1="579.85" x2="116.30" y2="579.85" stroke="#000" stroke-width="1.25"/>
<rect x="104.55" y="583.91" width="15.90" height="44.19" fill="#fff" stroke="#000" stroke-width="1.10"/>
<line x1="131.70" y1="590.99" x2="131.70" y2="585.11" stroke="#000" stroke-width="1.00"/>
<line x1="127.90" y1="585.11" x2="135.50" y2="585.11" stroke="#000" stroke-width="1.25"/>
<rect x="123.95" y="591.54" width="15.50" height="36.56" fill="#000" stroke="#000" stroke-width="1.10"/>
<line x1="150.75" y1="591.25" x2="150.75" y2="590.81" stroke="#000" stroke-width="1.00"/>
<line x1="146.95" y1="590.81" x2="154.55" y2="590.81" stroke="#000" stroke-width="1.25"/>
<rect x="142.65" y="591.80" width="16.20" height="36.30" fill="#8c8c8c" stroke="#000" stroke-width="1.10"/>
<line x1="99.60" y1="628.10" x2="161.20" y2="628.10" stroke="#222" stroke-width="1.00"/>
<text x="113.10" y="639.10" font-size="8.50" text-anchor="middle" fill="#000" font-weight="bold" textLength="11.36" lengthAdjust="spacingAndGlyphs" stroke="#000" stroke-width="0.30">NT</text>
<rect x="129.40" y="635.70" width="5.60" height="1.40" fill="#111"/>
<text x="151.25" y="639.10" font-size="8.50" text-anchor="middle" fill="#000" font-weight="bold" textLength="18.40" lengthAdjust="spacingAndGlyphs" stroke="#000" stroke-width="0.30">NAC</text>
<line x1="125.20" y1="640.50" x2="158.10" y2="640.50" stroke="#222" stroke-width="1.05"/>
<text x="138.82" y="650.40" font-size="8.50" text-anchor="middle" fill="#000" font-weight="bold" textLength="27.94" lengthAdjust="spacingAndGlyphs" stroke="#000" stroke-width="0.30">+Heme</text>
<text x="131.75" y="551.30" font-size="9.90" text-anchor="middle" fill="#000" font-weight="bold" textLength="49.01" lengthAdjust="spacingAndGlyphs" stroke="#000" stroke-width="0.20">Arginase 1</text>
<line x1="16.80" y1="678.10" x2="16.80" y2="744.30" stroke="#555" stroke-width="0.90"/>
<line x1="15.20" y1="743.80" x2="16.80" y2="743.80" stroke="#555" stroke-width="0.80"/>
<text x="14.90" y="745.50" font-size="4.80" text-anchor="end" fill="#111" font-weight="bold" stroke="#111" stroke-width="0.15">0</text>
<line x1="15.20" y1="727.50" x2="16.80" y2="727.50" stroke="#555" stroke-width="0.80"/>
<text x="14.90" y="729.20" font-size="4.80" text-anchor="end" fill="#111" font-weight="bold" stroke="#111" stroke-width="0.15">2</text>
<line x1="15.20" y1="711.20" x2="16.80" y2="711.20" stroke="#555" stroke-width="0.80"/>
<text x="14.90" y="712.90" font-size="4.80" text-anchor="end" fill="#111" font-weight="bold" stroke="#111" stroke-width="0.15">4</text>
<line x1="15.20" y1="694.90" x2="16.80" y2="694.90" stroke="#555" stroke-width="0.80"/>
<text x="14.90" y="696.60" font-size="4.80" text-anchor="end" fill="#111" font-weight="bold" stroke="#111" stroke-width="0.15">6</text>
<line x1="15.20" y1="678.60" x2="16.80" y2="678.60" stroke="#555" stroke-width="0.80"/>
<text x="14.90" y="680.30" font-size="4.80" text-anchor="end" fill="#111" font-weight="bold" stroke="#111" stroke-width="0.15">8</text>
<text x="8.90" y="711.20" font-size="7.00" text-anchor="middle" fill="#000" font-weight="bold" textLength="11.00" lengthAdjust="spacingAndGlyphs" transform="rotate(-90 8.90 711.20)" stroke="#000" stroke-width="0.15">RQ</text>
<line x1="29.75" y1="734.92" x2="29.75" y2="734.59" stroke="#000" stroke-width="1.00"/>
<line x1="25.95" y1="734.59" x2="33.55" y2="734.59" stroke="#000" stroke-width="1.25"/>
<rect x="21.65" y="735.47" width="16.20" height="8.33" fill="#fff" stroke="#000" stroke-width="1.10"/>
<line x1="49.90" y1="691.64" x2="49.90" y2="681.62" stroke="#000" stroke-width="1.00"/>
<line x1="46.10" y1="681.62" x2="53.70" y2="681.62" stroke="#000" stroke-width="1.25"/>
<rect x="41.55" y="692.19" width="16.70" height="51.61" fill="#000" stroke="#000" stroke-width="1.10"/>
<line x1="70.05" y1="724.16" x2="70.05" y2="723.83" stroke="#000" stroke-width="1.00"/>
<line x1="66.25" y1="723.83" x2="73.85" y2="723.83" stroke="#000" stroke-width="1.25"/>
<rect x="61.95" y="724.71" width="16.20" height="19.09" fill="#8c8c8c" stroke="#000" stroke-width="1.10"/>
<line x1="16.30" y1="743.80" x2="80.50" y2="743.80" stroke="#222" stroke-width="1.00"/>
<line x1="32.50" y1="680.30" x2="48.50" y2="680.30" stroke="#333" stroke-width="1.05"/>
<circle cx="37.05" cy="677.70" r="1.15" fill="#1a1a1a"/>
<circle cx="40.50" cy="677.70" r="1.15" fill="#1a1a1a"/>
<circle cx="43.95" cy="677.70" r="1.15" fill="#1a1a1a"/>
<line x1="51.60" y1="680.30" x2="67.50" y2="680.30" stroke="#333" stroke-width="1.05"/>
<circle cx="57.82" cy="677.70" r="1.15" fill="#1a1a1a"/>
<circle cx="61.27" cy="677.70" r="1.15" fill="#1a1a1a"/>
<text x="30.35" y="755.10" font-size="8.50" text-anchor="middle" fill="#000" font-weight="bold" textLength="11.36" lengthAdjust="spacingAndGlyphs" stroke="#000" stroke-width="0.30">NT</text>
<rect x="47.60" y="751.70" width="5.60" height="1.40" fill="#111"/>
<text x="70.55" y="755.10" font-size="8.50" text-anchor="middle" fill="#000" font-weight="bold" textLength="18.40" lengthAdjust="spacingAndGlyphs" stroke="#000" stroke-width="0.30">NAC</text>
<line x1="42.80" y1="756.50" x2="77.40" y2="756.50" stroke="#222" stroke-width="1.05"/>
<text x="57.57" y="766.40" font-size="8.50" text-anchor="middle" fill="#000" font-weight="bold" textLength="27.94" lengthAdjust="spacingAndGlyphs" stroke="#000" stroke-width="0.30">+Heme</text>
<text x="53.10" y="669.30" font-size="9.90" text-anchor="middle" fill="#000" font-weight="bold" textLength="24.40" lengthAdjust="spacingAndGlyphs" stroke="#000" stroke-width="0.20">TNFα</text>
<line x1="98.20" y1="678.10" x2="98.20" y2="744.30" stroke="#555" stroke-width="0.90"/>
<line x1="96.60" y1="743.80" x2="98.20" y2="743.80" stroke="#555" stroke-width="0.80"/>
<text x="96.30" y="745.50" font-size="4.80" text-anchor="end" fill="#111" font-weight="bold" stroke="#111" stroke-width="0.15">0.0</text>
<line x1="96.60" y1="722.07" x2="98.20" y2="722.07" stroke="#555" stroke-width="0.80"/>
<text x="96.30" y="723.77" font-size="4.80" text-anchor="end" fill="#111" font-weight="bold" stroke="#111" stroke-width="0.15">0.5</text>
<line x1="96.60" y1="700.33" x2="98.20" y2="700.33" stroke="#555" stroke-width="0.80"/>
<text x="96.30" y="702.03" font-size="4.80" text-anchor="end" fill="#111" font-weight="bold" stroke="#111" stroke-width="0.15">1.0</text>
<line x1="96.60" y1="678.60" x2="98.20" y2="678.60" stroke="#555" stroke-width="0.80"/>
<text x="96.30" y="680.30" font-size="4.80" text-anchor="end" fill="#111" font-weight="bold" stroke="#111" stroke-width="0.15">1.5</text>
<text x="87.40" y="711.20" font-size="7.00" text-anchor="middle" fill="#000" font-weight="bold" textLength="11.00" lengthAdjust="spacingAndGlyphs" transform="rotate(-90 87.40 711.20)" stroke="#000" stroke-width="0.15">RQ</text>
<line x1="110.95" y1="700.33" x2="110.95" y2="689.03" stroke="#000" stroke-width="1.00"/>
<line x1="107.15" y1="689.03" x2="114.75" y2="689.03" stroke="#000" stroke-width="1.25"/>
<rect x="102.85" y="700.88" width="16.20" height="42.92" fill="#fff" stroke="#000" stroke-width="1.10"/>
<line x1="130.10" y1="738.15" x2="130.10" y2="737.71" stroke="#000" stroke-width="1.00"/>
<line x1="126.30" y1="737.71" x2="133.90" y2="737.71" stroke="#000" stroke-width="1.25"/>
<rect x="122.45" y="738.70" width="15.30" height="5.10" fill="#000" stroke="#000" stroke-width="1.10"/>
<line x1="149.15" y1="728.59" x2="149.15" y2="726.85" stroke="#000" stroke-width="1.00"/>
<line x1="145.35" y1="726.85" x2="152.95" y2="726.85" stroke="#000" stroke-width="1.25"/>
<rect x="141.55" y="729.14" width="15.20" height="14.66" fill="#8c8c8c" stroke="#000" stroke-width="1.10"/>
<line x1="97.70" y1="743.80" x2="159.10" y2="743.80" stroke="#222" stroke-width="1.00"/>
<line x1="111.80" y1="685.90" x2="129.10" y2="685.90" stroke="#333" stroke-width="1.05"/>
<circle cx="120.45" cy="683.30" r="1.15" fill="#1a1a1a"/>
<text x="111.55" y="755.10" font-size="8.50" text-anchor="middle" fill="#000" font-weight="bold" textLength="11.36" lengthAdjust="spacingAndGlyphs" stroke="#000" stroke-width="0.30">NT</text>
<rect x="127.80" y="751.70" width="5.60" height="1.40" fill="#111"/>
<text x="149.65" y="755.10" font-size="8.50" text-anchor="middle" fill="#000" font-weight="bold" textLength="18.40" lengthAdjust="spacingAndGlyphs" stroke="#000" stroke-width="0.30">NAC</text>
<line x1="123.70" y1="756.50" x2="156.00" y2="756.50" stroke="#222" stroke-width="1.05"/>
<text x="137.22" y="766.40" font-size="8.50" text-anchor="middle" fill="#000" font-weight="bold" textLength="27.94" lengthAdjust="spacingAndGlyphs" stroke="#000" stroke-width="0.30">+Heme</text>
<text x="134.60" y="666.70" font-size="9.90" text-anchor="middle" fill="#000" font-weight="bold" textLength="23.70" lengthAdjust="spacingAndGlyphs" stroke="#000" stroke-width="0.20">IL-10</text>
<line x1="194.20" y1="448.90" x2="194.20" y2="515.30" stroke="#555" stroke-width="0.90"/>
<line x1="192.60" y1="514.80" x2="194.20" y2="514.80" stroke="#555" stroke-width="0.80"/>
<text x="192.30" y="516.50" font-size="4.80" text-anchor="end" fill="#111" font-weight="bold" stroke="#111" stroke-width="0.15">0.0</text>
<line x1="192.60" y1="493.00" x2="194.20" y2="493.00" stroke="#555" stroke-width="0.80"/>
<text x="192.30" y="494.70" font-size="4.80" text-anchor="end" fill="#111" font-weight="bold" stroke="#111" stroke-width="0.15">0.5</text>
<line x1="192.60" y1="471.20" x2="194.20" y2="471.20" stroke="#555" stroke-width="0.80"/>
<text x="192.30" y="472.90" font-size="4.80" text-anchor="end" fill="#111" font-weight="bold" stroke="#111" stroke-width="0.15">1.0</text>
<line x1="192.60" y1="449.40" x2="194.20" y2="449.40" stroke="#555" stroke-width="0.80"/>
<text x="192.30" y="451.10" font-size="4.80" text-anchor="end" fill="#111" font-weight="bold" stroke="#111" stroke-width="0.15">1.5</text>
<text x="183.50" y="482.10" font-size="7.00" text-anchor="middle" fill="#000" font-weight="bold" textLength="14.50" lengthAdjust="spacingAndGlyphs" transform="rotate(-90 183.50 482.10)" stroke="#000" stroke-width="0.15">RFU</text>
<line x1="206.75" y1="471.20" x2="206.75" y2="470.76" stroke="#000" stroke-width="1.00"/>
<line x1="202.95" y1="470.76" x2="210.55" y2="470.76" stroke="#000" stroke-width="1.25"/>
<rect x="198.75" y="471.75" width="16.00" height="43.05" fill="#fff" stroke="#000" stroke-width="1.10"/>
<line x1="226.35" y1="474.25" x2="226.35" y2="473.82" stroke="#000" stroke-width="1.00"/>
<line x1="222.55" y1="473.82" x2="230.15" y2="473.82" stroke="#000" stroke-width="1.25"/>
<rect x="218.65" y="474.80" width="15.40" height="40.00" fill="#000" stroke="#000" stroke-width="1.10"/>
<line x1="245.70" y1="480.36" x2="245.70" y2="479.92" stroke="#000" stroke-width="1.00"/>
<line x1="241.90" y1="479.92" x2="249.50" y2="479.92" stroke="#000" stroke-width="1.25"/>
<rect x="238.05" y="480.91" width="15.30" height="33.89" fill="#8c8c8c" stroke="#000" stroke-width="1.10"/>
<line x1="193.70" y1="514.80" x2="255.70" y2="514.80" stroke="#222" stroke-width="1.00"/>
<text x="207.35" y="524.80" font-size="8.50" text-anchor="middle" fill="#000" font-weight="bold" textLength="11.36" lengthAdjust="spacingAndGlyphs" stroke="#000" stroke-width="0.30">NT</text>
<rect x="224.05" y="521.40" width="5.60" height="1.40" fill="#111"/>
<text x="246.20" y="524.80" font-size="8.50" text-anchor="middle" fill="#000" font-weight="bold" textLength="18.40" lengthAdjust="spacingAndGlyphs" stroke="#000" stroke-width="0.30">NAC</text>
<line x1="219.90" y1="525.90" x2="252.60" y2="525.90" stroke="#222" stroke-width="1.05"/>
<text x="233.62" y="536.00" font-size="8.50" text-anchor="middle" fill="#000" font-weight="bold" textLength="27.94" lengthAdjust="spacingAndGlyphs" stroke="#000" stroke-width="0.30">+Heme</text>
<text x="228.90" y="437.60" font-size="9.90" text-anchor="middle" fill="#000" font-weight="bold" textLength="31.35" lengthAdjust="spacingAndGlyphs" stroke="#000" stroke-width="0.20">MHC II</text>
<line x1="276.30" y1="448.90" x2="276.30" y2="515.30" stroke="#555" stroke-width="0.90"/>
<line x1="274.70" y1="514.80" x2="276.30" y2="514.80" stroke="#555" stroke-width="0.80"/>
<text x="274.40" y="516.50" font-size="4.80" text-anchor="end" fill="#111" font-weight="bold" stroke="#111" stroke-width="0.15">0.0</text>
<line x1="274.70" y1="493.00" x2="276.30" y2="493.00" stroke="#555" stroke-width="0.80"/>
<text x="274.40" y="494.70" font-size="4.80" text-anchor="end" fill="#111" font-weight="bold" stroke="#111" stroke-width="0.15">0.5</text>
<line x1="274.70" y1="471.20" x2="276.30" y2="471.20" stroke="#555" stroke-width="0.80"/>
<text x="274.40" y="472.90" font-size="4.80" text-anchor="end" fill="#111" font-weight="bold" stroke="#111" stroke-width="0.15">1.0</text>
<line x1="274.70" y1="449.40" x2="276.30" y2="449.40" stroke="#555" stroke-width="0.80"/>
<text x="274.40" y="451.10" font-size="4.80" text-anchor="end" fill="#111" font-weight="bold" stroke="#111" stroke-width="0.15">1.5</text>
<text x="265.50" y="482.10" font-size="7.00" text-anchor="middle" fill="#000" font-weight="bold" textLength="14.50" lengthAdjust="spacingAndGlyphs" transform="rotate(-90 265.50 482.10)" stroke="#000" stroke-width="0.15">RFU</text>
<line x1="289.00" y1="471.20" x2="289.00" y2="470.76" stroke="#000" stroke-width="1.00"/>
<line x1="285.20" y1="470.76" x2="292.80" y2="470.76" stroke="#000" stroke-width="1.25"/>
<rect x="280.65" y="471.75" width="16.70" height="43.05" fill="#fff" stroke="#000" stroke-width="1.10"/>
<line x1="308.25" y1="510.00" x2="308.25" y2="509.57" stroke="#000" stroke-width="1.00"/>
<line x1="304.45" y1="509.57" x2="312.05" y2="509.57" stroke="#000" stroke-width="1.25"/>
<rect x="300.25" y="510.55" width="16.00" height="4.25" fill="#000" stroke="#000" stroke-width="1.10"/>
<line x1="327.35" y1="509.13" x2="327.35" y2="508.70" stroke="#000" stroke-width="1.00"/>
<line x1="323.55" y1="508.70" x2="331.15" y2="508.70" stroke="#000" stroke-width="1.25"/>
<rect x="319.25" y="509.68" width="16.20" height="5.12" fill="#8c8c8c" stroke="#000" stroke-width="1.10"/>
<line x1="275.80" y1="514.80" x2="337.80" y2="514.80" stroke="#222" stroke-width="1.00"/>
<line x1="286.70" y1="466.50" x2="303.80" y2="466.50" stroke="#333" stroke-width="1.05"/>
<circle cx="290.07" cy="463.90" r="1.15" fill="#1a1a1a"/>
<circle cx="293.52" cy="463.90" r="1.15" fill="#1a1a1a"/>
<circle cx="296.98" cy="463.90" r="1.15" fill="#1a1a1a"/>
<circle cx="300.43" cy="463.90" r="1.15" fill="#1a1a1a"/>
<text x="289.60" y="524.80" font-size="8.50" text-anchor="middle" fill="#000" font-weight="bold" textLength="11.36" lengthAdjust="spacingAndGlyphs" stroke="#000" stroke-width="0.30">NT</text>
<rect x="305.95" y="521.40" width="5.60" height="1.40" fill="#111"/>
<text x="327.85" y="524.80" font-size="8.50" text-anchor="middle" fill="#000" font-weight="bold" textLength="18.40" lengthAdjust="spacingAndGlyphs" stroke="#000" stroke-width="0.30">NAC</text>
<line x1="301.50" y1="525.90" x2="334.70" y2="525.90" stroke="#222" stroke-width="1.05"/>
<text x="315.40" y="536.00" font-size="8.50" text-anchor="middle" fill="#000" font-weight="bold" textLength="27.94" lengthAdjust="spacingAndGlyphs" stroke="#000" stroke-width="0.30">+Heme</text>
<text x="308.90" y="438.60" font-size="9.90" text-anchor="middle" fill="#000" font-weight="bold" textLength="30.76" lengthAdjust="spacingAndGlyphs" stroke="#000" stroke-width="0.20">CD206</text>
<line x1="193.90" y1="561.80" x2="193.90" y2="628.60" stroke="#555" stroke-width="0.90"/>
<line x1="192.30" y1="628.10" x2="193.90" y2="628.10" stroke="#555" stroke-width="0.80"/>
<text x="192.00" y="629.80" font-size="4.80" text-anchor="end" fill="#111" font-weight="bold" stroke="#111" stroke-width="0.15">0.0</text>
<line x1="192.30" y1="611.65" x2="193.90" y2="611.65" stroke="#555" stroke-width="0.80"/>
<text x="192.00" y="613.35" font-size="4.80" text-anchor="end" fill="#111" font-weight="bold" stroke="#111" stroke-width="0.15">0.5</text>
<line x1="192.30" y1="595.20" x2="193.90" y2="595.20" stroke="#555" stroke-width="0.80"/>
<text x="192.00" y="596.90" font-size="4.80" text-anchor="end" fill="#111" font-weight="bold" stroke="#111" stroke-width="0.15">1.0</text>
<line x1="192.30" y1="578.75" x2="193.90" y2="578.75" stroke="#555" stroke-width="0.80"/>
<text x="192.00" y="580.45" font-size="4.80" text-anchor="end" fill="#111" font-weight="bold" stroke="#111" stroke-width="0.15">1.5</text>
<line x1="192.30" y1="562.30" x2="193.90" y2="562.30" stroke="#555" stroke-width="0.80"/>
<text x="192.00" y="564.00" font-size="4.80" text-anchor="end" fill="#111" font-weight="bold" stroke="#111" stroke-width="0.15">2.0</text>
<text x="183.30" y="595.20" font-size="7.00" text-anchor="middle" fill="#000" font-weight="bold" textLength="14.50" lengthAdjust="spacingAndGlyphs" transform="rotate(-90 183.30 595.20)" stroke="#000" stroke-width="0.15">RFU</text>
<line x1="206.75" y1="595.20" x2="206.75" y2="593.55" stroke="#000" stroke-width="1.00"/>
<line x1="202.95" y1="593.55" x2="210.55" y2="593.55" stroke="#000" stroke-width="1.25"/>
<rect x="198.75" y="595.75" width="16.00" height="32.35" fill="#fff" stroke="#000" stroke-width="1.10"/>
<line x1="226.00" y1="575.79" x2="226.00" y2="572.83" stroke="#000" stroke-width="1.00"/>
<line x1="222.20" y1="572.83" x2="229.80" y2="572.83" stroke="#000" stroke-width="1.25"/>
<rect x="218.15" y="576.34" width="15.70" height="51.76" fill="#000" stroke="#000" stroke-width="1.10"/>
<line x1="245.45" y1="581.71" x2="245.45" y2="578.75" stroke="#000" stroke-width="1.00"/>
<line x1="241.65" y1="578.75" x2="249.25" y2="578.75" stroke="#000" stroke-width="1.25"/>
<rect x="237.55" y="582.26" width="15.80" height="45.84" fill="#8c8c8c" stroke="#000" stroke-width="1.10"/>
<line x1="193.40" y1="628.10" x2="255.70" y2="628.10" stroke="#222" stroke-width="1.00"/>
<line x1="207.70" y1="568.70" x2="225.00" y2="568.70" stroke="#333" stroke-width="1.05"/>
<circle cx="214.62" cy="566.10" r="1.15" fill="#1a1a1a"/>
<circle cx="218.07" cy="566.10" r="1.15" fill="#1a1a1a"/>
<text x="207.35" y="639.10" font-size="8.50" text-anchor="middle" fill="#000" font-weight="bold" textLength="11.36" lengthAdjust="spacingAndGlyphs" stroke="#000" stroke-width="0.30">NT</text>
<rect x="223.70" y="635.70" width="5.60" height="1.40" fill="#111"/>
<text x="245.95" y="639.10" font-size="8.50" text-anchor="middle" fill="#000" font-weight="bold" textLength="18.40" lengthAdjust="spacingAndGlyphs" stroke="#000" stroke-width="0.30">NAC</text>
<line x1="219.40" y1="640.50" x2="252.60" y2="640.50" stroke="#222" stroke-width="1.05"/>
<text x="233.32" y="650.40" font-size="8.50" text-anchor="middle" fill="#000" font-weight="bold" textLength="27.94" lengthAdjust="spacingAndGlyphs" stroke="#000" stroke-width="0.30">+Heme</text>
<text x="226.40" y="553.30" font-size="9.90" text-anchor="middle" fill="#000" font-weight="bold" textLength="24.95" lengthAdjust="spacingAndGlyphs" stroke="#000" stroke-width="0.20">CD14</text>
<line x1="276.10" y1="561.80" x2="276.10" y2="628.60" stroke="#555" stroke-width="0.90"/>
<line x1="274.50" y1="628.10" x2="276.10" y2="628.10" stroke="#555" stroke-width="0.80"/>
<text x="274.20" y="629.80" font-size="4.80" text-anchor="end" fill="#111" font-weight="bold" stroke="#111" stroke-width="0.15">0.0</text>
<line x1="274.50" y1="606.17" x2="276.10" y2="606.17" stroke="#555" stroke-width="0.80"/>
<text x="274.20" y="607.87" font-size="4.80" text-anchor="end" fill="#111" font-weight="bold" stroke="#111" stroke-width="0.15">0.5</text>
<line x1="274.50" y1="584.23" x2="276.10" y2="584.23" stroke="#555" stroke-width="0.80"/>
<text x="274.20" y="585.93" font-size="4.80" text-anchor="end" fill="#111" font-weight="bold" stroke="#111" stroke-width="0.15">1.0</text>
<line x1="274.50" y1="562.30" x2="276.10" y2="562.30" stroke="#555" stroke-width="0.80"/>
<text x="274.20" y="564.00" font-size="4.80" text-anchor="end" fill="#111" font-weight="bold" stroke="#111" stroke-width="0.15">1.5</text>
<text x="265.00" y="595.20" font-size="7.00" text-anchor="middle" fill="#000" font-weight="bold" textLength="11.00" lengthAdjust="spacingAndGlyphs" transform="rotate(-90 265.00 595.20)" stroke="#000" stroke-width="0.15">RQ</text>
<line x1="288.50" y1="584.23" x2="288.50" y2="580.29" stroke="#000" stroke-width="1.00"/>
<line x1="284.70" y1="580.29" x2="292.30" y2="580.29" stroke="#000" stroke-width="1.25"/>
<rect x="280.65" y="584.78" width="15.70" height="43.32" fill="#fff" stroke="#000" stroke-width="1.10"/>
<line x1="307.50" y1="583.79" x2="307.50" y2="577.65" stroke="#000" stroke-width="1.00"/>
<line x1="303.70" y1="577.65" x2="311.30" y2="577.65" stroke="#000" stroke-width="1.25"/>
<rect x="299.65" y="584.34" width="15.70" height="43.76" fill="#000" stroke="#000" stroke-width="1.10"/>
<line x1="326.65" y1="593.45" x2="326.65" y2="585.99" stroke="#000" stroke-width="1.00"/>
<line x1="322.85" y1="585.99" x2="330.45" y2="585.99" stroke="#000" stroke-width="1.25"/>
<rect x="318.75" y="594.00" width="15.80" height="34.10" fill="#8c8c8c" stroke="#000" stroke-width="1.10"/>
<line x1="275.60" y1="628.10" x2="336.90" y2="628.10" stroke="#222" stroke-width="1.00"/>
<text x="289.10" y="639.10" font-size="8.50" text-anchor="middle" fill="#000" font-weight="bold" textLength="11.36" lengthAdjust="spacingAndGlyphs" stroke="#000" stroke-width="0.30">NT</text>
<rect x="305.20" y="635.70" width="5.60" height="1.40" fill="#111"/>
<text x="327.15" y="639.10" font-size="8.50" text-anchor="middle" fill="#000" font-weight="bold" textLength="18.40" lengthAdjust="spacingAndGlyphs" stroke="#000" stroke-width="0.30">NAC</text>
<line x1="300.90" y1="640.50" x2="333.80" y2="640.50" stroke="#222" stroke-width="1.05"/>
<text x="314.68" y="650.40" font-size="8.50" text-anchor="middle" fill="#000" font-weight="bold" textLength="27.94" lengthAdjust="spacingAndGlyphs" stroke="#000" stroke-width="0.30">+Heme</text>
<text x="312.20" y="551.60" font-size="9.90" text-anchor="middle" fill="#000" font-weight="bold" textLength="49.01" lengthAdjust="spacingAndGlyphs" stroke="#000" stroke-width="0.20">Arginase 1</text>
<line x1="193.40" y1="678.10" x2="193.40" y2="744.30" stroke="#555" stroke-width="0.90"/>
<line x1="191.80" y1="743.80" x2="193.40" y2="743.80" stroke="#555" stroke-width="0.80"/>
<text x="191.50" y="745.50" font-size="4.80" text-anchor="end" fill="#111" font-weight="bold" stroke="#111" stroke-width="0.15">0.0</text>
<line x1="191.80" y1="727.50" x2="193.40" y2="727.50" stroke="#555" stroke-width="0.80"/>
<text x="191.50" y="729.20" font-size="4.80" text-anchor="end" fill="#111" font-weight="bold" stroke="#111" stroke-width="0.15">0.5</text>
<line x1="191.80" y1="711.20" x2="193.40" y2="711.20" stroke="#555" stroke-width="0.80"/>
<text x="191.50" y="712.90" font-size="4.80" text-anchor="end" fill="#111" font-weight="bold" stroke="#111" stroke-width="0.15">1.0</text>
<line x1="191.80" y1="694.90" x2="193.40" y2="694.90" stroke="#555" stroke-width="0.80"/>
<text x="191.50" y="696.60" font-size="4.80" text-anchor="end" fill="#111" font-weight="bold" stroke="#111" stroke-width="0.15">1.5</text>
<line x1="191.80" y1="678.60" x2="193.40" y2="678.60" stroke="#555" stroke-width="0.80"/>
<text x="191.50" y="680.30" font-size="4.80" text-anchor="end" fill="#111" font-weight="bold" stroke="#111" stroke-width="0.15">2.0</text>
<text x="182.60" y="711.20" font-size="7.00" text-anchor="middle" fill="#000" font-weight="bold" textLength="11.00" lengthAdjust="spacingAndGlyphs" transform="rotate(-90 182.60 711.20)" stroke="#000" stroke-width="0.15">RQ</text>
<line x1="206.00" y1="710.87" x2="206.00" y2="710.22" stroke="#000" stroke-width="1.00"/>
<line x1="202.20" y1="710.22" x2="209.80" y2="710.22" stroke="#000" stroke-width="1.25"/>
<rect x="197.85" y="711.42" width="16.30" height="32.38" fill="#fff" stroke="#000" stroke-width="1.10"/>
<line x1="225.20" y1="691.64" x2="225.20" y2="686.75" stroke="#000" stroke-width="1.00"/>
<line x1="221.40" y1="686.75" x2="229.00" y2="686.75" stroke="#000" stroke-width="1.25"/>
<rect x="217.25" y="692.19" width="15.90" height="51.61" fill="#000" stroke="#000" stroke-width="1.10"/>
<line x1="244.25" y1="696.53" x2="244.25" y2="691.64" stroke="#000" stroke-width="1.00"/>
<line x1="240.45" y1="691.64" x2="248.05" y2="691.64" stroke="#000" stroke-width="1.25"/>
<rect x="236.35" y="697.08" width="15.80" height="46.72" fill="#8c8c8c" stroke="#000" stroke-width="1.10"/>
<line x1="192.90" y1="743.80" x2="254.50" y2="743.80" stroke="#222" stroke-width="1.00"/>
<line x1="207.70" y1="683.80" x2="224.00" y2="683.80" stroke="#333" stroke-width="1.05"/>
<circle cx="215.85" cy="681.20" r="1.15" fill="#1a1a1a"/>
<text x="206.60" y="755.10" font-size="8.50" text-anchor="middle" fill="#000" font-weight="bold" textLength="11.36" lengthAdjust="spacingAndGlyphs" stroke="#000" stroke-width="0.30">NT</text>
<rect x="222.90" y="751.70" width="5.60" height="1.40" fill="#111"/>
<text x="244.75" y="755.10" font-size="8.50" text-anchor="middle" fill="#000" font-weight="bold" textLength="18.40" lengthAdjust="spacingAndGlyphs" stroke="#000" stroke-width="0.30">NAC</text>
<line x1="218.50" y1="756.50" x2="251.40" y2="756.50" stroke="#222" stroke-width="1.05"/>
<text x="232.32" y="766.40" font-size="8.50" text-anchor="middle" fill="#000" font-weight="bold" textLength="27.94" lengthAdjust="spacingAndGlyphs" stroke="#000" stroke-width="0.30">+Heme</text>
<text x="226.70" y="670.70" font-size="9.90" text-anchor="middle" fill="#000" font-weight="bold" textLength="24.40" lengthAdjust="spacingAndGlyphs" stroke="#000" stroke-width="0.20">TNFα</text>
<line x1="276.10" y1="678.10" x2="276.10" y2="744.30" stroke="#555" stroke-width="0.90"/>
<line x1="274.50" y1="743.80" x2="276.10" y2="743.80" stroke="#555" stroke-width="0.80"/>
<text x="274.20" y="745.50" font-size="4.80" text-anchor="end" fill="#111" font-weight="bold" stroke="#111" stroke-width="0.15">0.0</text>
<line x1="274.50" y1="722.07" x2="276.10" y2="722.07" stroke="#555" stroke-width="0.80"/>
<text x="274.20" y="723.77" font-size="4.80" text-anchor="end" fill="#111" font-weight="bold" stroke="#111" stroke-width="0.15">0.5</text>
<line x1="274.50" y1="700.33" x2="276.10" y2="700.33" stroke="#555" stroke-width="0.80"/>
<text x="274.20" y="702.03" font-size="4.80" text-anchor="end" fill="#111" font-weight="bold" stroke="#111" stroke-width="0.15">1.0</text>
<line x1="274.50" y1="678.60" x2="276.10" y2="678.60" stroke="#555" stroke-width="0.80"/>
<text x="274.20" y="680.30" font-size="4.80" text-anchor="end" fill="#111" font-weight="bold" stroke="#111" stroke-width="0.15">1.5</text>
<text x="265.30" y="711.20" font-size="7.00" text-anchor="middle" fill="#000" font-weight="bold" textLength="11.00" lengthAdjust="spacingAndGlyphs" transform="rotate(-90 265.30 711.20)" stroke="#000" stroke-width="0.15">RQ</text>
<line x1="288.75" y1="700.33" x2="288.75" y2="696.42" stroke="#000" stroke-width="1.00"/>
<line x1="284.95" y1="696.42" x2="292.55" y2="696.42" stroke="#000" stroke-width="1.25"/>
<rect x="280.65" y="700.88" width="16.20" height="42.92" fill="#fff" stroke="#000" stroke-width="1.10"/>
<line x1="307.75" y1="733.37" x2="307.75" y2="730.76" stroke="#000" stroke-width="1.00"/>
<line x1="303.95" y1="730.76" x2="311.55" y2="730.76" stroke="#000" stroke-width="1.25"/>
<rect x="299.65" y="733.92" width="16.20" height="9.88" fill="#000" stroke="#000" stroke-width="1.10"/>
<line x1="326.85" y1="731.63" x2="326.85" y2="728.15" stroke="#000" stroke-width="1.00"/>
<line x1="323.05" y1="728.15" x2="330.65" y2="728.15" stroke="#000" stroke-width="1.25"/>
<rect x="318.75" y="732.18" width="16.20" height="11.62" fill="#8c8c8c" stroke="#000" stroke-width="1.10"/>
<line x1="275.60" y1="743.80" x2="337.30" y2="743.80" stroke="#222" stroke-width="1.00"/>
<line x1="289.60" y1="691.10" x2="306.90" y2="691.10" stroke="#333" stroke-width="1.05"/>
<circle cx="294.80" cy="688.50" r="1.15" fill="#1a1a1a"/>
<circle cx="298.25" cy="688.50" r="1.15" fill="#1a1a1a"/>
<circle cx="301.70" cy="688.50" r="1.15" fill="#1a1a1a"/>
<text x="289.35" y="755.10" font-size="8.50" text-anchor="middle" fill="#000" font-weight="bold" textLength="11.36" lengthAdjust="spacingAndGlyphs" stroke="#000" stroke-width="0.30">NT</text>
<rect x="305.45" y="751.70" width="5.60" height="1.40" fill="#111"/>
<text x="327.35" y="755.10" font-size="8.50" text-anchor="middle" fill="#000" font-weight="bold" textLength="18.40" lengthAdjust="spacingAndGlyphs" stroke="#000" stroke-width="0.30">NAC</text>
<line x1="300.90" y1="756.50" x2="334.20" y2="756.50" stroke="#222" stroke-width="1.05"/>
<text x="314.90" y="766.40" font-size="8.50" text-anchor="middle" fill="#000" font-weight="bold" textLength="27.94" lengthAdjust="spacingAndGlyphs" stroke="#000" stroke-width="0.30">+Heme</text>
<text x="310.70" y="666.60" font-size="9.90" text-anchor="middle" fill="#000" font-weight="bold" textLength="23.70" lengthAdjust="spacingAndGlyphs" stroke="#000" stroke-width="0.20">IL-10</text>
<line x1="367.30" y1="448.90" x2="367.30" y2="515.30" stroke="#555" stroke-width="0.90"/>
<line x1="365.70" y1="514.80" x2="367.30" y2="514.80" stroke="#555" stroke-width="0.80"/>
<text x="365.40" y="516.50" font-size="4.80" text-anchor="end" fill="#111" font-weight="bold" stroke="#111" stroke-width="0.15">0.0</text>
<line x1="365.70" y1="493.00" x2="367.30" y2="493.00" stroke="#555" stroke-width="0.80"/>
<text x="365.40" y="494.70" font-size="4.80" text-anchor="end" fill="#111" font-weight="bold" stroke="#111" stroke-width="0.15">0.5</text>
<line x1="365.70" y1="471.20" x2="367.30" y2="471.20" stroke="#555" stroke-width="0.80"/>
<text x="365.40" y="472.90" font-size="4.80" text-anchor="end" fill="#111" font-weight="bold" stroke="#111" stroke-width="0.15">1.0</text>
<line x1="365.70" y1="449.40" x2="367.30" y2="449.40" stroke="#555" stroke-width="0.80"/>
<text x="365.40" y="451.10" font-size="4.80" text-anchor="end" fill="#111" font-weight="bold" stroke="#111" stroke-width="0.15">1.5</text>
<text x="356.30" y="482.10" font-size="7.00" text-anchor="middle" fill="#000" font-weight="bold" textLength="14.50" lengthAdjust="spacingAndGlyphs" transform="rotate(-90 356.30 482.10)" stroke="#000" stroke-width="0.15">RFU</text>
<rect x="371.75" y="471.75" width="16.20" height="43.05" fill="#fff" stroke="#000" stroke-width="1.10"/>
<line x1="399.25" y1="465.10" x2="399.25" y2="464.66" stroke="#000" stroke-width="1.00"/>
<line x1="395.45" y1="464.66" x2="403.05" y2="464.66" stroke="#000" stroke-width="1.25"/>
<rect x="391.55" y="465.65" width="15.40" height="49.15" fill="#000" stroke="#000" stroke-width="1.10"/>
<line x1="418.30" y1="478.18" x2="418.30" y2="477.74" stroke="#000" stroke-width="1.00"/>
<line x1="414.50" y1="477.74" x2="422.10" y2="477.74" stroke="#000" stroke-width="1.25"/>
<rect x="410.65" y="478.73" width="15.30" height="36.07" fill="#8c8c8c" stroke="#000" stroke-width="1.10"/>
<line x1="366.80" y1="514.80" x2="428.30" y2="514.80" stroke="#222" stroke-width="1.00"/>
<line x1="380.70" y1="457.00" x2="396.80" y2="457.00" stroke="#333" stroke-width="1.05"/>
<circle cx="385.30" cy="454.40" r="1.15" fill="#1a1a1a"/>
<circle cx="388.75" cy="454.40" r="1.15" fill="#1a1a1a"/>
<circle cx="392.20" cy="454.40" r="1.15" fill="#1a1a1a"/>
<line x1="399.40" y1="457.00" x2="416.20" y2="457.00" stroke="#333" stroke-width="1.05"/>
<circle cx="402.62" cy="454.40" r="1.15" fill="#1a1a1a"/>
<circle cx="406.07" cy="454.40" r="1.15" fill="#1a1a1a"/>
<circle cx="409.52" cy="454.40" r="1.15" fill="#1a1a1a"/>
<circle cx="412.97" cy="454.40" r="1.15" fill="#1a1a1a"/>
<text x="380.45" y="524.80" font-size="8.50" text-anchor="middle" fill="#000" font-weight="bold" textLength="11.36" lengthAdjust="spacingAndGlyphs" stroke="#000" stroke-width="0.30">NT</text>
<rect x="396.95" y="521.40" width="5.60" height="1.40" fill="#111"/>
<text x="418.80" y="524.80" font-size="8.50" text-anchor="middle" fill="#000" font-weight="bold" textLength="18.40" lengthAdjust="spacingAndGlyphs" stroke="#000" stroke-width="0.30">NAC</text>
<line x1="392.80" y1="525.90" x2="425.20" y2="525.90" stroke="#222" stroke-width="1.05"/>
<text x="406.38" y="536.00" font-size="8.50" text-anchor="middle" fill="#000" font-weight="bold" textLength="27.94" lengthAdjust="spacingAndGlyphs" stroke="#000" stroke-width="0.30">+Heme</text>
<text x="401.20" y="439.20" font-size="9.90" text-anchor="middle" fill="#000" font-weight="bold" textLength="31.35" lengthAdjust="spacingAndGlyphs" stroke="#000" stroke-width="0.20">MHC II</text>
<line x1="450.60" y1="448.90" x2="450.60" y2="515.30" stroke="#555" stroke-width="0.90"/>
<line x1="449.00" y1="514.80" x2="450.60" y2="514.80" stroke="#555" stroke-width="0.80"/>
<text x="448.70" y="516.50" font-size="4.80" text-anchor="end" fill="#111" font-weight="bold" stroke="#111" stroke-width="0.15">0.0</text>
<line x1="449.00" y1="493.00" x2="450.60" y2="493.00" stroke="#555" stroke-width="0.80"/>
<text x="448.70" y="494.70" font-size="4.80" text-anchor="end" fill="#111" font-weight="bold" stroke="#111" stroke-width="0.15">0.5</text>
<line x1="449.00" y1="471.20" x2="450.60" y2="471.20" stroke="#555" stroke-width="0.80"/>
<text x="448.70" y="472.90" font-size="4.80" text-anchor="end" fill="#111" font-weight="bold" stroke="#111" stroke-width="0.15">1.0</text>
<line x1="449.00" y1="449.40" x2="450.60" y2="449.40" stroke="#555" stroke-width="0.80"/>
<text x="448.70" y="451.10" font-size="4.80" text-anchor="end" fill="#111" font-weight="bold" stroke="#111" stroke-width="0.15">1.5</text>
<text x="437.80" y="482.10" font-size="7.00" text-anchor="middle" fill="#000" font-weight="bold" textLength="14.50" lengthAdjust="spacingAndGlyphs" transform="rotate(-90 437.80 482.10)" stroke="#000" stroke-width="0.15">RFU</text>
<line x1="463.50" y1="471.20" x2="463.50" y2="470.33" stroke="#000" stroke-width="1.00"/>
<line x1="459.70" y1="470.33" x2="467.30" y2="470.33" stroke="#000" stroke-width="1.25"/>
<rect x="454.95" y="471.75" width="17.10" height="43.05" fill="#fff" stroke="#000" stroke-width="1.10"/>
<line x1="484.10" y1="512.18" x2="484.10" y2="511.31" stroke="#000" stroke-width="1.00"/>
<line x1="480.30" y1="511.31" x2="487.90" y2="511.31" stroke="#000" stroke-width="1.25"/>
<rect x="475.75" y="512.73" width="16.70" height="2.07" fill="#000" stroke="#000" stroke-width="1.10"/>
<line x1="504.80" y1="506.52" x2="504.80" y2="503.03" stroke="#000" stroke-width="1.00"/>
<line x1="501.00" y1="503.03" x2="508.60" y2="503.03" stroke="#000" stroke-width="1.25"/>
<rect x="496.55" y="507.07" width="16.50" height="7.73" fill="#8c8c8c" stroke="#000" stroke-width="1.10"/>
<line x1="450.10" y1="514.80" x2="515.40" y2="514.80" stroke="#222" stroke-width="1.00"/>
<line x1="462.70" y1="464.50" x2="479.50" y2="464.50" stroke="#333" stroke-width="1.05"/>
<circle cx="465.93" cy="461.90" r="1.15" fill="#1a1a1a"/>
<circle cx="469.38" cy="461.90" r="1.15" fill="#1a1a1a"/>
<circle cx="472.83" cy="461.90" r="1.15" fill="#1a1a1a"/>
<circle cx="476.28" cy="461.90" r="1.15" fill="#1a1a1a"/>
<line x1="488.20" y1="498.00" x2="503.70" y2="498.00" stroke="#333" stroke-width="1.05"/>
<circle cx="494.22" cy="495.40" r="1.15" fill="#1a1a1a"/>
<circle cx="497.68" cy="495.40" r="1.15" fill="#1a1a1a"/>
<text x="464.10" y="524.80" font-size="8.50" text-anchor="middle" fill="#000" font-weight="bold" textLength="11.36" lengthAdjust="spacingAndGlyphs" stroke="#000" stroke-width="0.30">NT</text>
<rect x="481.80" y="521.40" width="5.60" height="1.40" fill="#111"/>
<text x="505.30" y="524.80" font-size="8.50" text-anchor="middle" fill="#000" font-weight="bold" textLength="18.40" lengthAdjust="spacingAndGlyphs" stroke="#000" stroke-width="0.30">NAC</text>
<line x1="477.00" y1="525.90" x2="512.30" y2="525.90" stroke="#222" stroke-width="1.05"/>
<text x="492.05" y="536.00" font-size="8.50" text-anchor="middle" fill="#000" font-weight="bold" textLength="27.94" lengthAdjust="spacingAndGlyphs" stroke="#000" stroke-width="0.30">+Heme</text>
<text x="484.10" y="437.60" font-size="9.90" text-anchor="middle" fill="#000" font-weight="bold" textLength="30.76" lengthAdjust="spacingAndGlyphs" stroke="#000" stroke-width="0.20">CD206</text>
<line x1="366.80" y1="561.80" x2="366.80" y2="628.60" stroke="#555" stroke-width="0.90"/>
<line x1="365.20" y1="628.10" x2="366.80" y2="628.10" stroke="#555" stroke-width="0.80"/>
<text x="364.90" y="629.80" font-size="4.80" text-anchor="end" fill="#111" font-weight="bold" stroke="#111" stroke-width="0.15">0</text>
<line x1="365.20" y1="611.65" x2="366.80" y2="611.65" stroke="#555" stroke-width="0.80"/>
<text x="364.90" y="613.35" font-size="4.80" text-anchor="end" fill="#111" font-weight="bold" stroke="#111" stroke-width="0.15">1</text>
<line x1="365.20" y1="595.20" x2="366.80" y2="595.20" stroke="#555" stroke-width="0.80"/>
<text x="364.90" y="596.90" font-size="4.80" text-anchor="end" fill="#111" font-weight="bold" stroke="#111" stroke-width="0.15">2</text>
<line x1="365.20" y1="578.75" x2="366.80" y2="578.75" stroke="#555" stroke-width="0.80"/>
<text x="364.90" y="580.45" font-size="4.80" text-anchor="end" fill="#111" font-weight="bold" stroke="#111" stroke-width="0.15">3</text>
<line x1="365.20" y1="562.30" x2="366.80" y2="562.30" stroke="#555" stroke-width="0.80"/>
<text x="364.90" y="564.00" font-size="4.80" text-anchor="end" fill="#111" font-weight="bold" stroke="#111" stroke-width="0.15">4</text>
<text x="359.20" y="595.20" font-size="7.00" text-anchor="middle" fill="#000" font-weight="bold" textLength="14.50" lengthAdjust="spacingAndGlyphs" transform="rotate(-90 359.20 595.20)" stroke="#000" stroke-width="0.15">RFU</text>
<line x1="380.25" y1="611.16" x2="380.25" y2="608.52" stroke="#000" stroke-width="1.00"/>
<line x1="376.45" y1="608.52" x2="384.05" y2="608.52" stroke="#000" stroke-width="1.25"/>
<rect x="371.75" y="611.71" width="17.00" height="16.39" fill="#fff" stroke="#000" stroke-width="1.10"/>
<line x1="400.40" y1="578.75" x2="400.40" y2="575.95" stroke="#000" stroke-width="1.00"/>
<line x1="396.60" y1="575.95" x2="404.20" y2="575.95" stroke="#000" stroke-width="1.25"/>
<rect x="392.15" y="579.30" width="16.50" height="48.80" fill="#000" stroke="#000" stroke-width="1.10"/>
<line x1="420.45" y1="591.58" x2="420.45" y2="589.44" stroke="#000" stroke-width="1.00"/>
<line x1="416.65" y1="589.44" x2="424.25" y2="589.44" stroke="#000" stroke-width="1.25"/>
<rect x="412.35" y="592.13" width="16.20" height="35.97" fill="#8c8c8c" stroke="#000" stroke-width="1.10"/>
<line x1="366.30" y1="628.10" x2="430.90" y2="628.10" stroke="#222" stroke-width="1.00"/>
<line x1="381.20" y1="570.50" x2="397.10" y2="570.50" stroke="#333" stroke-width="1.05"/>
<circle cx="385.70" cy="567.90" r="1.15" fill="#1a1a1a"/>
<circle cx="389.15" cy="567.90" r="1.15" fill="#1a1a1a"/>
<circle cx="392.60" cy="567.90" r="1.15" fill="#1a1a1a"/>
<line x1="402.00" y1="570.50" x2="418.70" y2="570.50" stroke="#333" stroke-width="1.05"/>
<circle cx="410.35" cy="567.90" r="1.15" fill="#1a1a1a"/>
<text x="380.85" y="639.10" font-size="8.50" text-anchor="middle" fill="#000" font-weight="bold" textLength="11.36" lengthAdjust="spacingAndGlyphs" stroke="#000" stroke-width="0.30">NT</text>
<rect x="398.10" y="635.70" width="5.60" height="1.40" fill="#111"/>
<text x="420.95" y="639.10" font-size="8.50" text-anchor="middle" fill="#000" font-weight="bold" textLength="18.40" lengthAdjust="spacingAndGlyphs" stroke="#000" stroke-width="0.30">NAC</text>
<line x1="393.40" y1="640.50" x2="427.80" y2="640.50" stroke="#222" stroke-width="1.05"/>
<text x="408.03" y="650.40" font-size="8.50" text-anchor="middle" fill="#000" font-weight="bold" textLength="27.94" lengthAdjust="spacingAndGlyphs" stroke="#000" stroke-width="0.30">+Heme</text>
<text x="402.40" y="553.80" font-size="9.90" text-anchor="middle" fill="#000" font-weight="bold" textLength="24.95" lengthAdjust="spacingAndGlyphs" stroke="#000" stroke-width="0.20">CD14</text>
<line x1="450.20" y1="561.10" x2="450.20" y2="591.60" stroke="#555" stroke-width="0.90"/>
<line x1="450.20" y1="596.00" x2="450.20" y2="627.30" stroke="#555" stroke-width="0.90"/>
<line x1="448.60" y1="561.60" x2="450.20" y2="561.60" stroke="#555" stroke-width="0.80"/>
<text x="448.30" y="563.30" font-size="4.80" text-anchor="end" fill="#111" font-weight="bold" stroke="#111" stroke-width="0.15">1.6</text>
<line x1="448.60" y1="575.65" x2="450.20" y2="575.65" stroke="#555" stroke-width="0.80"/>
<text x="448.30" y="577.35" font-size="4.80" text-anchor="end" fill="#111" font-weight="bold" stroke="#111" stroke-width="0.15">1.2</text>
<line x1="448.60" y1="589.70" x2="450.20" y2="589.70" stroke="#555" stroke-width="0.80"/>
<text x="448.30" y="591.40" font-size="4.80" text-anchor="end" fill="#111" font-weight="bold" stroke="#111" stroke-width="0.15">0.8</text>
<line x1="448.60" y1="596.80" x2="450.20" y2="596.80" stroke="#555" stroke-width="0.80"/>
<text x="448.30" y="598.50" font-size="4.80" text-anchor="end" fill="#111" font-weight="bold" stroke="#111" stroke-width="0.15">0.2</text>
<line x1="448.60" y1="611.80" x2="450.20" y2="611.80" stroke="#555" stroke-width="0.80"/>
<text x="448.30" y="613.50" font-size="4.80" text-anchor="end" fill="#111" font-weight="bold" stroke="#111" stroke-width="0.15">0.1</text>
<line x1="448.60" y1="626.80" x2="450.20" y2="626.80" stroke="#555" stroke-width="0.80"/>
<text x="448.30" y="628.50" font-size="4.80" text-anchor="end" fill="#111" font-weight="bold" stroke="#111" stroke-width="0.15">0.0</text>
<line x1="450.20" y1="591.60" x2="451.80" y2="592.40" stroke="#555" stroke-width="0.70"/>
<line x1="448.60" y1="595.40" x2="450.20" y2="596.00" stroke="#555" stroke-width="0.70"/>
<text x="440.10" y="593.70" font-size="7.00" text-anchor="middle" fill="#000" font-weight="bold" textLength="10.57" lengthAdjust="spacingAndGlyphs" transform="rotate(-90 440.10 593.70)" stroke="#000" stroke-width="0.15">RQ</text>
<line x1="462.90" y1="580.92" x2="462.90" y2="577.76" stroke="#000" stroke-width="1.00"/>
<line x1="459.10" y1="577.76" x2="466.70" y2="577.76" stroke="#000" stroke-width="1.25"/>
<rect x="454.95" y="581.47" width="15.90" height="45.33" fill="#fff"/>
<line x1="454.40" y1="581.47" x2="471.40" y2="581.47" stroke="#000" stroke-width="1.10"/>
<line x1="454.95" y1="580.92" x2="454.95" y2="591.60" stroke="#000" stroke-width="1.10"/>
<line x1="454.95" y1="596.80" x2="454.95" y2="626.80" stroke="#000" stroke-width="1.10"/>
<line x1="470.85" y1="580.92" x2="470.85" y2="591.60" stroke="#000" stroke-width="1.10"/>
<line x1="470.85" y1="596.80" x2="470.85" y2="626.80" stroke="#000" stroke-width="1.10"/>
<line x1="482.15" y1="623.80" x2="482.15" y2="623.35" stroke="#000" stroke-width="1.00"/>
<line x1="478.35" y1="623.35" x2="485.95" y2="623.35" stroke="#000" stroke-width="1.25"/>
<rect x="474.05" y="624.35" width="16.20" height="2.45" fill="#000" stroke="#000" stroke-width="1.10"/>
<rect x="493.05" y="616.40" width="16.20" height="10.40" fill="#8c8c8c" stroke="#000" stroke-width="1.10"/>
<line x1="449.70" y1="626.80" x2="511.60" y2="626.80" stroke="#222" stroke-width="1.00"/>
<line x1="462.70" y1="573.10" x2="479.50" y2="573.10" stroke="#333" stroke-width="1.05"/>
<circle cx="465.93" cy="570.50" r="1.15" fill="#1a1a1a"/>
<circle cx="469.38" cy="570.50" r="1.15" fill="#1a1a1a"/>
<circle cx="472.83" cy="570.50" r="1.15" fill="#1a1a1a"/>
<circle cx="476.28" cy="570.50" r="1.15" fill="#1a1a1a"/>
<text x="463.50" y="639.10" font-size="8.50" text-anchor="middle" fill="#000" font-weight="bold" textLength="11.36" lengthAdjust="spacingAndGlyphs" stroke="#000" stroke-width="0.30">NT</text>
<rect x="479.85" y="635.70" width="5.60" height="1.40" fill="#111"/>
<text x="501.65" y="639.10" font-size="8.50" text-anchor="middle" fill="#000" font-weight="bold" textLength="18.40" lengthAdjust="spacingAndGlyphs" stroke="#000" stroke-width="0.30">NAC</text>
<line x1="475.30" y1="640.50" x2="508.50" y2="640.50" stroke="#222" stroke-width="1.05"/>
<text x="489.25" y="650.40" font-size="8.50" text-anchor="middle" fill="#000" font-weight="bold" textLength="27.94" lengthAdjust="spacingAndGlyphs" stroke="#000" stroke-width="0.30">+Heme</text>
<text x="484.10" y="551.60" font-size="9.90" text-anchor="middle" fill="#000" font-weight="bold" textLength="49.01" lengthAdjust="spacingAndGlyphs" stroke="#000" stroke-width="0.20">Arginase 1</text>
<line x1="367.30" y1="678.10" x2="367.30" y2="744.30" stroke="#555" stroke-width="0.90"/>
<line x1="365.70" y1="743.80" x2="367.30" y2="743.80" stroke="#555" stroke-width="0.80"/>
<text x="365.40" y="745.50" font-size="4.80" text-anchor="end" fill="#111" font-weight="bold" stroke="#111" stroke-width="0.15">0</text>
<line x1="365.70" y1="730.76" x2="367.30" y2="730.76" stroke="#555" stroke-width="0.80"/>
<text x="365.40" y="732.46" font-size="4.80" text-anchor="end" fill="#111" font-weight="bold" stroke="#111" stroke-width="0.15">1</text>
<line x1="365.70" y1="717.72" x2="367.30" y2="717.72" stroke="#555" stroke-width="0.80"/>
<text x="365.40" y="719.42" font-size="4.80" text-anchor="end" fill="#111" font-weight="bold" stroke="#111" stroke-width="0.15">2</text>
<line x1="365.70" y1="704.68" x2="367.30" y2="704.68" stroke="#555" stroke-width="0.80"/>
<text x="365.40" y="706.38" font-size="4.80" text-anchor="end" fill="#111" font-weight="bold" stroke="#111" stroke-width="0.15">3</text>
<line x1="365.70" y1="691.64" x2="367.30" y2="691.64" stroke="#555" stroke-width="0.80"/>
<text x="365.40" y="693.34" font-size="4.80" text-anchor="end" fill="#111" font-weight="bold" stroke="#111" stroke-width="0.15">4</text>
<line x1="365.70" y1="678.60" x2="367.30" y2="678.60" stroke="#555" stroke-width="0.80"/>
<text x="365.40" y="680.30" font-size="4.80" text-anchor="end" fill="#111" font-weight="bold" stroke="#111" stroke-width="0.15">5</text>
<text x="359.60" y="711.20" font-size="7.00" text-anchor="middle" fill="#000" font-weight="bold" textLength="11.00" lengthAdjust="spacingAndGlyphs" transform="rotate(-90 359.60 711.20)" stroke="#000" stroke-width="0.15">RQ</text>
<line x1="380.40" y1="730.76" x2="380.40" y2="729.72" stroke="#000" stroke-width="1.00"/>
<line x1="376.60" y1="729.72" x2="384.20" y2="729.72" stroke="#000" stroke-width="1.25"/>
<rect x="372.05" y="731.31" width="16.70" height="12.49" fill="#fff" stroke="#000" stroke-width="1.10"/>
<line x1="400.75" y1="686.82" x2="400.75" y2="685.12" stroke="#000" stroke-width="1.00"/>
<line x1="396.95" y1="685.12" x2="404.55" y2="685.12" stroke="#000" stroke-width="1.25"/>
<rect x="392.45" y="687.37" width="16.60" height="56.43" fill="#000" stroke="#000" stroke-width="1.10"/>
<line x1="420.45" y1="719.81" x2="420.45" y2="718.11" stroke="#000" stroke-width="1.00"/>
<line x1="416.65" y1="718.11" x2="424.25" y2="718.11" stroke="#000" stroke-width="1.25"/>
<rect x="412.35" y="720.36" width="16.20" height="23.44" fill="#8c8c8c" stroke="#000" stroke-width="1.10"/>
<line x1="366.80" y1="743.80" x2="430.90" y2="743.80" stroke="#222" stroke-width="1.00"/>
<line x1="383.30" y1="682.10" x2="398.80" y2="682.10" stroke="#333" stroke-width="1.05"/>
<circle cx="387.60" cy="679.50" r="1.15" fill="#1a1a1a"/>
<circle cx="391.05" cy="679.50" r="1.15" fill="#1a1a1a"/>
<circle cx="394.50" cy="679.50" r="1.15" fill="#1a1a1a"/>
<line x1="402.30" y1="682.10" x2="418.70" y2="682.10" stroke="#333" stroke-width="1.05"/>
<circle cx="408.77" cy="679.50" r="1.15" fill="#1a1a1a"/>
<circle cx="412.23" cy="679.50" r="1.15" fill="#1a1a1a"/>
<text x="381.00" y="755.10" font-size="8.50" text-anchor="middle" fill="#000" font-weight="bold" textLength="11.36" lengthAdjust="spacingAndGlyphs" stroke="#000" stroke-width="0.30">NT</text>
<rect x="398.45" y="751.70" width="5.60" height="1.40" fill="#111"/>
<text x="420.95" y="755.10" font-size="8.50" text-anchor="middle" fill="#000" font-weight="bold" textLength="18.40" lengthAdjust="spacingAndGlyphs" stroke="#000" stroke-width="0.30">NAC</text>
<line x1="393.70" y1="756.50" x2="427.80" y2="756.50" stroke="#222" stroke-width="1.05"/>
<text x="408.20" y="766.40" font-size="8.50" text-anchor="middle" fill="#000" font-weight="bold" textLength="27.94" lengthAdjust="spacingAndGlyphs" stroke="#000" stroke-width="0.30">+Heme</text>
<text x="407.60" y="668.30" font-size="9.90" text-anchor="middle" fill="#000" font-weight="bold" textLength="24.40" lengthAdjust="spacingAndGlyphs" stroke="#000" stroke-width="0.20">TNFα</text>
<line x1="451.80" y1="678.10" x2="451.80" y2="744.30" stroke="#555" stroke-width="0.90"/>
<line x1="450.20" y1="743.80" x2="451.80" y2="743.80" stroke="#555" stroke-width="0.80"/>
<text x="449.90" y="745.50" font-size="4.80" text-anchor="end" fill="#111" font-weight="bold" stroke="#111" stroke-width="0.15">0.0</text>
<line x1="450.20" y1="722.07" x2="451.80" y2="722.07" stroke="#555" stroke-width="0.80"/>
<text x="449.90" y="723.77" font-size="4.80" text-anchor="end" fill="#111" font-weight="bold" stroke="#111" stroke-width="0.15">0.5</text>
<line x1="450.20" y1="700.33" x2="451.80" y2="700.33" stroke="#555" stroke-width="0.80"/>
<text x="449.90" y="702.03" font-size="4.80" text-anchor="end" fill="#111" font-weight="bold" stroke="#111" stroke-width="0.15">1.0</text>
<line x1="450.20" y1="678.60" x2="451.80" y2="678.60" stroke="#555" stroke-width="0.80"/>
<text x="449.90" y="680.30" font-size="4.80" text-anchor="end" fill="#111" font-weight="bold" stroke="#111" stroke-width="0.15">1.5</text>
<text x="440.50" y="711.20" font-size="7.00" text-anchor="middle" fill="#000" font-weight="bold" textLength="11.00" lengthAdjust="spacingAndGlyphs" transform="rotate(-90 440.50 711.20)" stroke="#000" stroke-width="0.15">RQ</text>
<line x1="464.20" y1="700.33" x2="464.20" y2="689.47" stroke="#000" stroke-width="1.00"/>
<line x1="460.40" y1="689.47" x2="468.00" y2="689.47" stroke="#000" stroke-width="1.25"/>
<rect x="456.35" y="700.88" width="15.70" height="42.92" fill="#fff" stroke="#000" stroke-width="1.10"/>
<line x1="483.20" y1="739.45" x2="483.20" y2="738.58" stroke="#000" stroke-width="1.00"/>
<line x1="479.40" y1="738.58" x2="487.00" y2="738.58" stroke="#000" stroke-width="1.25"/>
<rect x="475.35" y="740.00" width="15.70" height="3.80" fill="#000" stroke="#000" stroke-width="1.10"/>
<line x1="502.30" y1="734.67" x2="502.30" y2="731.63" stroke="#000" stroke-width="1.00"/>
<line x1="498.50" y1="731.63" x2="506.10" y2="731.63" stroke="#000" stroke-width="1.25"/>
<rect x="494.45" y="735.22" width="15.70" height="8.58" fill="#8c8c8c" stroke="#000" stroke-width="1.10"/>
<line x1="451.30" y1="743.80" x2="512.50" y2="743.80" stroke="#222" stroke-width="1.00"/>
<line x1="463.10" y1="684.70" x2="479.50" y2="684.70" stroke="#333" stroke-width="1.05"/>
<circle cx="471.30" cy="682.10" r="1.15" fill="#1a1a1a"/>
<text x="464.80" y="755.10" font-size="8.50" text-anchor="middle" fill="#000" font-weight="bold" textLength="11.36" lengthAdjust="spacingAndGlyphs" stroke="#000" stroke-width="0.30">NT</text>
<rect x="480.90" y="751.70" width="5.60" height="1.40" fill="#111"/>
<text x="502.80" y="755.10" font-size="8.50" text-anchor="middle" fill="#000" font-weight="bold" textLength="18.40" lengthAdjust="spacingAndGlyphs" stroke="#000" stroke-width="0.30">NAC</text>
<line x1="476.60" y1="756.50" x2="509.40" y2="756.50" stroke="#222" stroke-width="1.05"/>
<text x="490.35" y="766.40" font-size="8.50" text-anchor="middle" fill="#000" font-weight="bold" textLength="27.94" lengthAdjust="spacingAndGlyphs" stroke="#000" stroke-width="0.30">+Heme</text>
<text x="487.10" y="666.60" font-size="9.90" text-anchor="middle" fill="#000" font-weight="bold" textLength="23.70" lengthAdjust="spacingAndGlyphs" stroke="#000" stroke-width="0.20">IL-10</text>
<text x="264.50" y="10.20" font-size="12.50" text-anchor="middle" fill="#000" font-weight="bold" textLength="111.10" lengthAdjust="spacingAndGlyphs" stroke="#000" stroke-width="0.35">Heme + TAK-242</text>
<text x="255.50" y="392.30" font-size="12.21" text-anchor="middle" fill="#000" font-weight="bold" textLength="83.30" lengthAdjust="spacingAndGlyphs" stroke="#000" stroke-width="0.35">Heme + NAC</text>
<text x="10.75" y="28.20" font-size="14.10" text-anchor="middle" fill="#000" font-weight="bold" textLength="9.80" lengthAdjust="spacingAndGlyphs" stroke="#000" stroke-width="0.20">A</text>
<text x="88.35" y="26.50" font-size="13.95" text-anchor="middle" fill="#000" font-weight="bold" textLength="23.96" lengthAdjust="spacingAndGlyphs" stroke="#000" stroke-width="0.30">M0</text>
<line x1="5.80" y1="31.00" x2="165.00" y2="31.00" stroke="#222" stroke-width="1.10"/>
<text x="27.03" y="42.30" font-size="10.03" text-anchor="middle" fill="#000" font-weight="bold" textLength="15.09" lengthAdjust="spacingAndGlyphs" stroke="#000" stroke-width="0.40">M1</text>
<text x="60.97" y="42.30" font-size="10.03" text-anchor="middle" fill="#000" font-weight="bold" textLength="44.28" lengthAdjust="spacingAndGlyphs" stroke="#000" stroke-width="0.40">markers</text>
<text x="103.95" y="42.30" font-size="10.03" text-anchor="middle" fill="#000" font-weight="bold" textLength="15.05" lengthAdjust="spacingAndGlyphs" stroke="#000" stroke-width="0.40">M2</text>
<text x="137.48" y="42.30" font-size="10.03" text-anchor="middle" fill="#000" font-weight="bold" textLength="43.75" lengthAdjust="spacingAndGlyphs" stroke="#000" stroke-width="0.40">markers</text>
<text x="187.50" y="28.20" font-size="14.10" text-anchor="middle" fill="#000" font-weight="bold" textLength="10.66" lengthAdjust="spacingAndGlyphs" stroke="#000" stroke-width="0.20">B</text>
<text x="266.20" y="28.10" font-size="13.95" text-anchor="middle" fill="#000" font-weight="bold" textLength="21.46" lengthAdjust="spacingAndGlyphs" stroke="#000" stroke-width="0.30">M1</text>
<line x1="182.00" y1="31.00" x2="341.25" y2="31.00" stroke="#222" stroke-width="1.10"/>
<text x="203.28" y="42.30" font-size="10.03" text-anchor="middle" fill="#000" font-weight="bold" textLength="15.09" lengthAdjust="spacingAndGlyphs" stroke="#000" stroke-width="0.40">M1</text>
<text x="237.22" y="42.30" font-size="10.03" text-anchor="middle" fill="#000" font-weight="bold" textLength="44.28" lengthAdjust="spacingAndGlyphs" stroke="#000" stroke-width="0.40">markers</text>
<text x="279.98" y="42.30" font-size="10.03" text-anchor="middle" fill="#000" font-weight="bold" textLength="15.11" lengthAdjust="spacingAndGlyphs" stroke="#000" stroke-width="0.40">M2</text>
<text x="313.64" y="42.30" font-size="10.03" text-anchor="middle" fill="#000" font-weight="bold" textLength="43.92" lengthAdjust="spacingAndGlyphs" stroke="#000" stroke-width="0.40">markers</text>
<text x="363.12" y="28.20" font-size="14.10" text-anchor="middle" fill="#000" font-weight="bold" textLength="10.77" lengthAdjust="spacingAndGlyphs" stroke="#000" stroke-width="0.20">C</text>
<text x="440.00" y="28.10" font-size="14.54" text-anchor="middle" fill="#000" font-weight="bold" textLength="23.83" lengthAdjust="spacingAndGlyphs" stroke="#000" stroke-width="0.30">M2</text>
<line x1="356.25" y1="31.00" x2="515.50" y2="31.00" stroke="#222" stroke-width="1.10"/>
<text x="377.53" y="42.30" font-size="10.03" text-anchor="middle" fill="#000" font-weight="bold" textLength="15.09" lengthAdjust="spacingAndGlyphs" stroke="#000" stroke-width="0.40">M1</text>
<text x="411.47" y="42.30" font-size="10.03" text-anchor="middle" fill="#000" font-weight="bold" textLength="44.28" lengthAdjust="spacingAndGlyphs" stroke="#000" stroke-width="0.40">markers</text>
<text x="454.03" y="42.30" font-size="10.03" text-anchor="middle" fill="#000" font-weight="bold" textLength="15.24" lengthAdjust="spacingAndGlyphs" stroke="#000" stroke-width="0.40">M2</text>
<text x="487.97" y="42.30" font-size="10.03" text-anchor="middle" fill="#000" font-weight="bold" textLength="44.28" lengthAdjust="spacingAndGlyphs" stroke="#000" stroke-width="0.40">markers</text>
<text x="10.00" y="410.30" font-size="14.10" text-anchor="middle" fill="#000" font-weight="bold" textLength="10.60" lengthAdjust="spacingAndGlyphs" stroke="#000" stroke-width="0.20">D</text>
<text x="80.85" y="409.10" font-size="14.24" text-anchor="middle" fill="#000" font-weight="bold" textLength="23.74" lengthAdjust="spacingAndGlyphs" stroke="#000" stroke-width="0.30">M0</text>
<line x1="5.30" y1="412.70" x2="163.75" y2="412.70" stroke="#222" stroke-width="1.10"/>
<text x="26.45" y="424.40" font-size="10.03" text-anchor="middle" fill="#000" font-weight="bold" textLength="14.91" lengthAdjust="spacingAndGlyphs" stroke="#000" stroke-width="0.40">M1</text>
<text x="59.98" y="424.40" font-size="10.03" text-anchor="middle" fill="#000" font-weight="bold" textLength="43.75" lengthAdjust="spacingAndGlyphs" stroke="#000" stroke-width="0.40">markers</text>
<text x="103.20" y="424.40" font-size="10.03" text-anchor="middle" fill="#000" font-weight="bold" textLength="15.05" lengthAdjust="spacingAndGlyphs" stroke="#000" stroke-width="0.40">M2</text>
<text x="136.73" y="424.40" font-size="10.03" text-anchor="middle" fill="#000" font-weight="bold" textLength="43.75" lengthAdjust="spacingAndGlyphs" stroke="#000" stroke-width="0.40">markers</text>
<text x="188.00" y="410.30" font-size="14.10" text-anchor="middle" fill="#000" font-weight="bold" textLength="10.11" lengthAdjust="spacingAndGlyphs" stroke="#000" stroke-width="0.20">E</text>
<text x="258.50" y="410.10" font-size="13.95" text-anchor="middle" fill="#000" font-weight="bold" textLength="21.68" lengthAdjust="spacingAndGlyphs" stroke="#000" stroke-width="0.30">M1</text>
<line x1="181.25" y1="412.70" x2="341.25" y2="412.70" stroke="#222" stroke-width="1.10"/>
<text x="203.20" y="424.40" font-size="10.03" text-anchor="middle" fill="#000" font-weight="bold" textLength="14.91" lengthAdjust="spacingAndGlyphs" stroke="#000" stroke-width="0.40">M1</text>
<text x="236.73" y="424.40" font-size="10.03" text-anchor="middle" fill="#000" font-weight="bold" textLength="43.75" lengthAdjust="spacingAndGlyphs" stroke="#000" stroke-width="0.40">markers</text>
<text x="279.98" y="424.40" font-size="10.03" text-anchor="middle" fill="#000" font-weight="bold" textLength="15.11" lengthAdjust="spacingAndGlyphs" stroke="#000" stroke-width="0.40">M2</text>
<text x="313.64" y="424.40" font-size="10.03" text-anchor="middle" fill="#000" font-weight="bold" textLength="43.92" lengthAdjust="spacingAndGlyphs" stroke="#000" stroke-width="0.40">markers</text>
<text x="362.25" y="410.30" font-size="14.10" text-anchor="middle" fill="#000" font-weight="bold" textLength="9.63" lengthAdjust="spacingAndGlyphs" stroke="#000" stroke-width="0.20">F</text>
<text x="432.45" y="410.20" font-size="14.10" text-anchor="middle" fill="#000" font-weight="bold" textLength="24.16" lengthAdjust="spacingAndGlyphs" stroke="#000" stroke-width="0.30">M2</text>
<line x1="357.00" y1="412.70" x2="516.25" y2="412.70" stroke="#222" stroke-width="1.10"/>
<text x="378.28" y="424.40" font-size="10.03" text-anchor="middle" fill="#000" font-weight="bold" textLength="15.09" lengthAdjust="spacingAndGlyphs" stroke="#000" stroke-width="0.40">M1</text>
<text x="412.22" y="424.40" font-size="10.03" text-anchor="middle" fill="#000" font-weight="bold" textLength="44.28" lengthAdjust="spacingAndGlyphs" stroke="#000" stroke-width="0.40">markers</text>
<text x="455.03" y="424.40" font-size="10.03" text-anchor="middle" fill="#000" font-weight="bold" textLength="15.24" lengthAdjust="spacingAndGlyphs" stroke="#000" stroke-width="0.40">M2</text>
<text x="488.97" y="424.40" font-size="10.03" text-anchor="middle" fill="#000" font-weight="bold" textLength="44.28" lengthAdjust="spacingAndGlyphs" stroke="#000" stroke-width="0.40">markers</text>
</svg></body></html>
